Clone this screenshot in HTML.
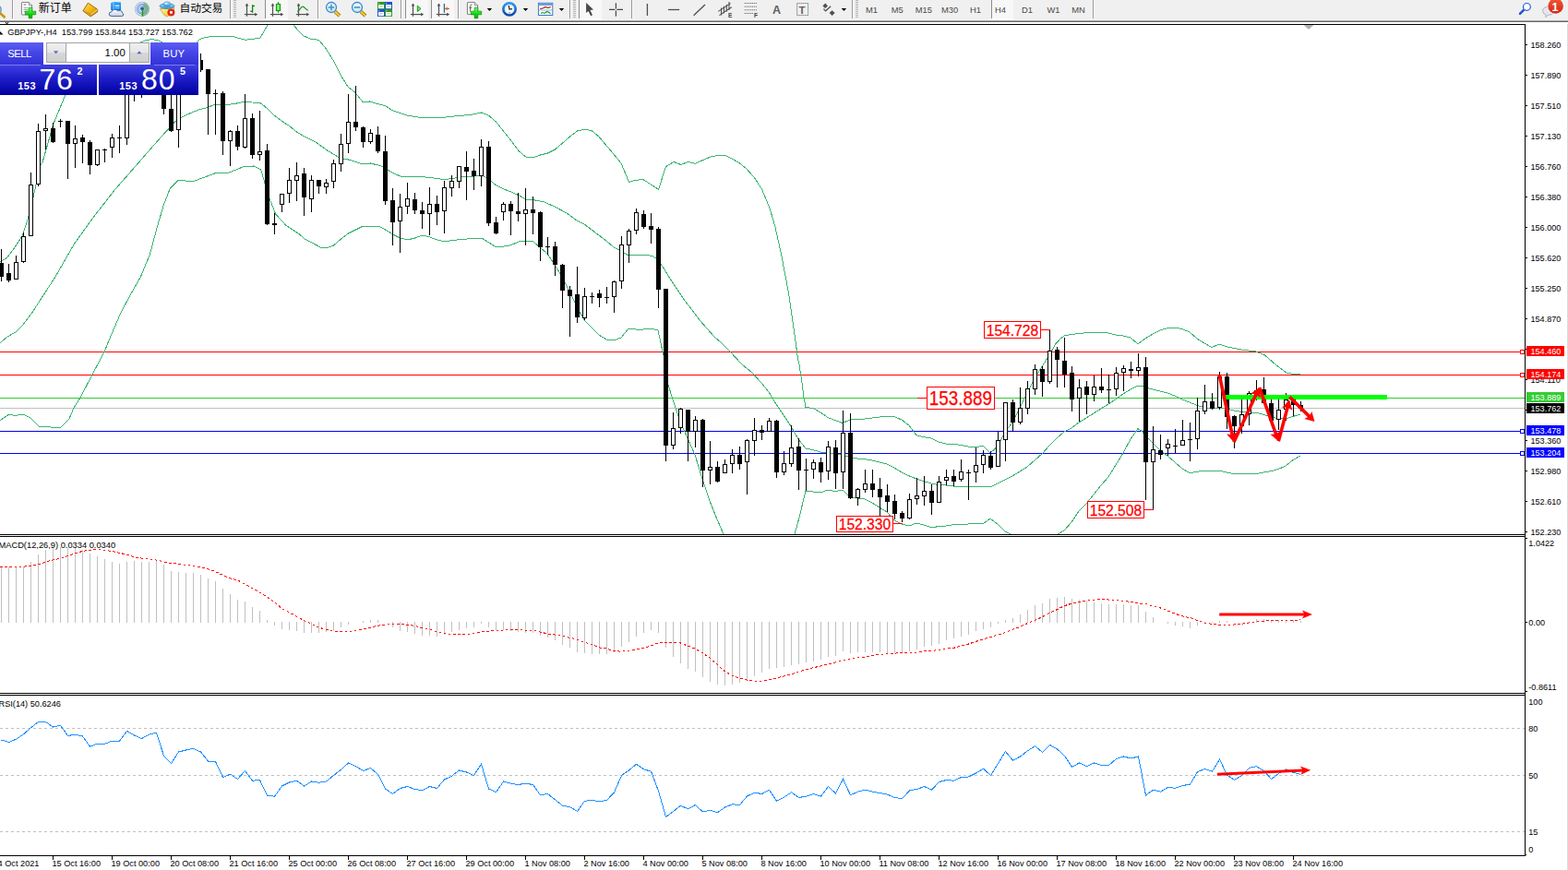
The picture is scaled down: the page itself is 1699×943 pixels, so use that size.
<!DOCTYPE html><html><head><meta charset="utf-8"><title>GBPJPY H4</title><style>
html,body{margin:0;padding:0;background:#fff;}
#root{position:relative;width:1699px;height:943px;overflow:hidden;background:#fff;font-family:"Liberation Sans", sans-serif;}
#root svg{position:absolute;left:0;top:0;}
.t{position:absolute;white-space:nowrap;line-height:1;font-family:"Liberation Sans", sans-serif;}
.t{height:1em;} 
.pb{position:absolute;left:1654px;width:41px;height:11px;color:#fff;font-size:9px;line-height:12.6px;text-indent:4.5px;font-size:9.1px;white-space:nowrap;overflow:hidden;}
.lb{position:absolute;border:1px solid #ff0000;background:#fff;color:#ff0000;display:flex;justify-content:center;white-space:nowrap;overflow:hidden;}
.lb span{flex:none;-webkit-text-stroke:0.25px #ff0000;}

#pn{position:absolute;left:0;top:46px;width:215px;height:57px;}
.sb{position:absolute;top:0;height:24px;background:linear-gradient(#5c5cf4,#4444e6 50%,#3232d8);color:#fff;font-size:11.3px;line-height:25px;}
.sbl{position:absolute;top:24px;height:1px;background:#7a7aee;z-index:3;}
.vol{position:absolute;left:47.6px;top:0;width:115.6px;height:24px;background:#fff;}
.vfr{position:absolute;left:2.6px;top:0.2px;width:109.4px;height:20.2px;border:1px solid #a4a4ac;background:#fff;}
.vbtn{position:absolute;top:0;width:20px;height:20.2px;background:linear-gradient(#efefef,#e6e6e6 48%,#d6d6d6 52%,#d0d0d0);}
.vtx{position:absolute;left:20px;top:0;width:63.6px;height:20.2px;background:#fff;font-size:11.4px;line-height:20.6px;text-align:right;padding-right:3.8px;color:#000;border-left:1px solid #a4a4ac;border-right:1px solid #a4a4ac;box-sizing:content-box;}
.pr{position:absolute;top:24px;height:33px;background:linear-gradient(#4040e4,#1e1ec8 45%,#0000a0);color:#fff;}
.pr span{position:absolute;line-height:1;white-space:nowrap;}
.s1{font-weight:bold;font-size:11px;top:17.9px;letter-spacing:0.55px;}
.s2{font-size:32px;top:-0.3px;letter-spacing:0.9px;}
.s3{font-weight:bold;font-size:10.8px;top:1.8px;}
</style></head><body><div id="root"><svg width="1699" height="943" viewBox="0 0 1699 943" shape-rendering="crispEdges"><defs><clipPath id="cm"><rect x="0" y="27" width="1652" height="552"/></clipPath><clipPath id="c2"><rect x="0" y="582" width="1652" height="169"/></clipPath><clipPath id="c3"><rect x="0" y="754" width="1652" height="173"/></clipPath></defs>
<g clip-path="url(#cm)">
<rect x="0" y="381" width="1652" height="1" fill="#ff0000"/>
<rect x="0" y="406" width="1652" height="1" fill="#ff0000"/>
<rect x="0" y="431" width="1652" height="1" fill="#32cd32"/>
<rect x="0" y="442" width="1652" height="1" fill="#c0c0c0"/>
<rect x="0" y="467" width="1652" height="1" fill="#0000ff"/>
<rect x="0" y="491" width="1652" height="1" fill="#0000ff"/>
<polyline points="0,284 8,279 16,268 24,256 30,238 36,214 39,200 43,180 46,176 58,134 70,105 80,85 90,70 100,62 120,55 140,50 150,47 158,43.6 165,42.6 171,43.6 180,48 200,50 212,48 215,43.7 219.3,41.5 223,40.6 231,39 250.7,39 257.8,41.2 266.3,43.3 273.3,42.3 281.8,41.2 286,34 290.3,26.8 293,22" fill="none" stroke="#3cb371" stroke-width="1"/>
<polyline points="315,22 317.8,26.8 322.8,32.7 329,39 337,42.3 345.4,43.3 353,52.5 361,65.2 368.7,80.7 377,94 385,100.5 393.4,111 400.5,110 409,112.5 417.4,114.6 425.6,120 441,125 456,127.5 479,127.5 496,125.5 510,124.5 521.4,122 529.4,125 537.4,132 545.4,142 553.4,152 561.5,163 569.5,170 577.5,171 585.5,168 593.5,166 601.5,162 609.6,155 617.6,148 625.6,142 633.6,140 641.6,142 649.2,148.4 657,157.7 665.4,167.7 673,176.9 681.5,197.3 689,195.3 697,194.6 705.3,200 713.5,205.3 721.5,180.7 730,175.4 737.6,178.4 746,175.4 753.3,177.4 761.5,173.5 770,170 777.6,168.4 786,168.4 793.7,172.3 801.4,176.9 809,183 817.6,193 825.3,204.6 833.7,224.6 840,246 846.6,276 854.6,318 860.6,360 864.6,389 866,395 869,415 871,431 873,441.5 881,442.5 889,447 897,452.5 905,455.7 913,458.5 921,455 929,454 937,454 945,453 953,452 961,451.7 969,451.7 977,455 985,461 993,471.7 1001,473.7 1009,475 1017,479 1025,481 1033,481 1049,484 1057,485 1065,483 1073,491 1081,484 1089,468 1097,458 1105,442 1113,426 1121,410 1129,397.5 1135.3,387.4 1140,379.5 1144,372.6 1148.7,367.5 1153,364 1161,362.4 1169,361.6 1177,360.6 1185,360 1193,360 1201,361 1209,363 1217,364 1225,366 1233,373 1241,367 1249,362 1257,358 1265,355.6 1273,355 1281,356.6 1289,360 1297,367 1305,372 1313,376.5 1321,373 1329,375.7 1337,377.5 1345,379 1353,380 1361,381 1370.5,385 1381.8,394.9 1393.8,404 1401.6,405.5 1409,405.5" fill="none" stroke="#3cb371" stroke-width="1"/>
<polyline points="0,371.6 8,365 17,360 25,352 34,340 60,300 80,265 100,237 125,205 147,180 160,165 175,148 190,131.6 196.4,127.3 205.5,123 215.4,118.9 225.3,116.3 233,113.2 241.6,114.2 249.3,113.2 257.8,111.8 265.6,110 273.3,111 281.8,111.5 289.6,117.5 297.3,125.2 305.8,131.6 313.6,136.5 321.4,142.9 330,148 342,154 356,164 369.5,172 377.5,173 385.5,175.6 393.5,178 401.5,177 409.6,179 415,180.6 423,186 433.6,191 441.6,192 458,191.6 470,193 481.7,194.6 489.7,193.6 497.7,192 513.8,191 521.8,190 527.4,192.6 537.8,201 545.8,205 553.8,208 561.9,211.6 569.9,216 577.9,216.7 590,219 601,224 614,231 625,239 633,243 641,249 649,255 657,261 665,268 673,272 681,277 689,276 700,276 707,277.6 711,280 718,289 726,302 734,314 742,326 750,336 758,347 766,356 774,365 782,372 790,380 797.5,388 804,395 815,404 825,415 833,425 841,438 849,450 857,462 865,476 873,486 881,487.6 889,490 897,491 905,491.8 913,493 921,495.8 929,497 937,497.6 945,499 953,501 961,503 969,507 977,512 985,515.8 993,519 1001,521.6 1009,524 1017,525.6 1025,526 1033,527 1049,528 1065,527 1073,528 1081,524 1089,520 1097,516 1105,511 1113,506 1121,499 1129,492 1137,483 1145,475 1153,468 1161,464 1169,458 1177,453 1185,448 1193,443 1201,438 1209,432.8 1217,427 1225,422 1233,418 1238,418.8 1244.4,420.8 1249,422 1257,424 1265,426 1273,429 1281,433 1289,436 1297,439.4 1305,441.5 1313,443 1321,442.2 1329,443 1337,445 1345,446.4 1353,447.2 1361,447.2 1369,449.3 1377,452.1 1385,453.5 1393,454.2 1401,451.4 1409,449.3" fill="none" stroke="#3cb371" stroke-width="1"/>
<polyline points="0,455.6 10,449 16,450.6 25,449 33,453 42,462 48,462 55,463 65,464 75,454 80,442 87,431 100,406 113,381.5 118,369 130.3,340.3 140.3,321.3 152.3,300.2 162.3,276 170.3,246.1 177.4,222 184.4,204 193.4,195 208.4,197 232.5,188 248.5,187 264.5,180.4 274.5,180 282.6,183.6 286.6,197 291.6,214 298.6,232 309.6,244 324.6,254 330,259 338,263 347,268 353.4,269 361.5,266 369.5,259 377.5,253 385.5,249 393.5,245 401.5,245 409.6,245 417.6,249 425.6,254 433.6,258 441.6,260 449.6,258 457.7,255 465.7,257 473.7,260 481.7,261.7 489.7,260.7 497.7,259.7 505.8,259 513.8,258 521.8,258 529.8,263 537.8,268 545.8,267 553.8,265.7 561.9,262 569.9,261 577.9,262 585,268 593,275 601,287 609,300 617,316 625,332 633,347 641,355 649,363 657,368 665,369 673,366 681,356 689,357 697,357 705,356 713,358 718,381 720,389 724,417 729,433 737,457 745,475 753,493 761,519 769,543 777,563 784,579" fill="none" stroke="#3cb371" stroke-width="1"/>
<polyline points="861,579 866,561 873,532 881,533 889,534 897,531 905,532.7 913,531 921,539 929,540 937,541 945,545 953,550 961,555 969,564 977,568 985,570 993,567 1001,569 1009,571.7 1017,570.7 1025,570 1033,568.6 1049,568 1057,567 1065,568 1073,562 1081,568 1089,576 1095,579" fill="none" stroke="#3cb371" stroke-width="1"/>
<polyline points="1146,579 1153,575 1161,566 1169,554 1177,546 1185,536 1193,526 1201,517 1209,504 1217,491 1225,476 1233,464.6 1238,468 1241,472 1249,480 1257,488 1265,494 1273,501 1281,508 1289,512.7 1297,511.4 1305,510 1313,510 1321,510 1329,512 1337,513.5 1345,513.8 1353,513.8 1361,513.5 1369,512 1377,510.7 1385,508.6 1393,505 1401,498.7 1409,494" fill="none" stroke="#3cb371" stroke-width="1"/>
<rect x="1" y="270" width="1" height="35" fill="#000"/>
<rect x="-1" y="285" width="5" height="15" fill="#000"/>
<rect x="9" y="286" width="1" height="20" fill="#000"/>
<rect x="7" y="296" width="5" height="8" fill="#000"/>
<rect x="17" y="277" width="1" height="26" fill="#000"/>
<rect x="15" y="284" width="5" height="19" fill="#000"/>
<rect x="16" y="285" width="3" height="17" fill="#fff"/>
<rect x="25" y="252" width="1" height="33" fill="#000"/>
<rect x="23" y="256" width="5" height="28" fill="#000"/>
<rect x="24" y="257" width="3" height="26" fill="#fff"/>
<rect x="33" y="187" width="1" height="69" fill="#000"/>
<rect x="31" y="200" width="5" height="56" fill="#000"/>
<rect x="32" y="201" width="3" height="54" fill="#fff"/>
<rect x="41" y="134" width="1" height="68" fill="#000"/>
<rect x="39" y="142" width="5" height="58" fill="#000"/>
<rect x="40" y="143" width="3" height="56" fill="#fff"/>
<rect x="49" y="124" width="1" height="38" fill="#000"/>
<rect x="47" y="139" width="5" height="3" fill="#000"/>
<rect x="48" y="140" width="3" height="1" fill="#fff"/>
<rect x="57" y="133" width="1" height="22" fill="#000"/>
<rect x="55" y="139" width="5" height="15" fill="#000"/>
<rect x="65" y="129" width="1" height="9" fill="#000"/>
<rect x="63" y="131" width="5" height="1" fill="#000"/>
<rect x="73" y="131" width="1" height="63" fill="#000"/>
<rect x="71" y="131" width="5" height="25" fill="#000"/>
<rect x="81" y="136" width="1" height="46" fill="#000"/>
<rect x="79" y="150" width="5" height="6" fill="#000"/>
<rect x="80" y="151" width="3" height="4" fill="#fff"/>
<rect x="89" y="146" width="1" height="31" fill="#000"/>
<rect x="87" y="149" width="5" height="5" fill="#000"/>
<rect x="97" y="152" width="1" height="37" fill="#000"/>
<rect x="95" y="154" width="5" height="25" fill="#000"/>
<rect x="105" y="162" width="1" height="18" fill="#000"/>
<rect x="103" y="162" width="5" height="17" fill="#000"/>
<rect x="104" y="163" width="3" height="15" fill="#fff"/>
<rect x="113" y="161" width="1" height="15" fill="#000"/>
<rect x="111" y="162" width="5" height="1" fill="#000"/>
<rect x="121" y="145" width="1" height="26" fill="#000"/>
<rect x="119" y="149" width="5" height="11" fill="#000"/>
<rect x="120" y="150" width="3" height="9" fill="#fff"/>
<rect x="129" y="136" width="1" height="30" fill="#000"/>
<rect x="127" y="149" width="5" height="1" fill="#000"/>
<rect x="137" y="70" width="1" height="87" fill="#000"/>
<rect x="135" y="88" width="5" height="62" fill="#000"/>
<rect x="136" y="89" width="3" height="60" fill="#fff"/>
<rect x="145" y="56" width="1" height="54" fill="#000"/>
<rect x="143" y="62" width="5" height="24" fill="#000"/>
<rect x="144" y="63" width="3" height="22" fill="#fff"/>
<rect x="153" y="58" width="1" height="48" fill="#000"/>
<rect x="151" y="64" width="5" height="16" fill="#000"/>
<rect x="161" y="55" width="1" height="41" fill="#000"/>
<rect x="159" y="60" width="5" height="16" fill="#000"/>
<rect x="160" y="61" width="3" height="14" fill="#fff"/>
<rect x="169" y="52" width="1" height="40" fill="#000"/>
<rect x="167" y="58" width="5" height="16" fill="#000"/>
<rect x="177" y="66" width="1" height="58" fill="#000"/>
<rect x="175" y="74" width="5" height="44" fill="#000"/>
<rect x="185" y="100" width="1" height="43" fill="#000"/>
<rect x="183" y="118" width="5" height="24" fill="#000"/>
<rect x="193" y="84" width="1" height="76" fill="#000"/>
<rect x="191" y="92" width="5" height="49" fill="#000"/>
<rect x="192" y="93" width="3" height="47" fill="#fff"/>
<rect x="201" y="62" width="1" height="38" fill="#000"/>
<rect x="199" y="70" width="5" height="22" fill="#000"/>
<rect x="200" y="71" width="3" height="20" fill="#fff"/>
<rect x="209" y="54" width="1" height="30" fill="#000"/>
<rect x="207" y="62" width="5" height="8" fill="#000"/>
<rect x="208" y="63" width="3" height="6" fill="#fff"/>
<rect x="217" y="58" width="1" height="20" fill="#000"/>
<rect x="215" y="65" width="5" height="11" fill="#000"/>
<rect x="225" y="75" width="1" height="71" fill="#000"/>
<rect x="223" y="75" width="5" height="27" fill="#000"/>
<rect x="233" y="97" width="1" height="49" fill="#000"/>
<rect x="231" y="101" width="5" height="1" fill="#000"/>
<rect x="241" y="99" width="1" height="69" fill="#000"/>
<rect x="239" y="101" width="5" height="52" fill="#000"/>
<rect x="249" y="141" width="1" height="39" fill="#000"/>
<rect x="247" y="142" width="5" height="11" fill="#000"/>
<rect x="248" y="143" width="3" height="9" fill="#fff"/>
<rect x="257" y="136" width="1" height="27" fill="#000"/>
<rect x="255" y="142" width="5" height="17" fill="#000"/>
<rect x="265" y="102" width="1" height="59" fill="#000"/>
<rect x="263" y="128" width="5" height="32" fill="#000"/>
<rect x="264" y="129" width="3" height="30" fill="#fff"/>
<rect x="273" y="123" width="1" height="49" fill="#000"/>
<rect x="271" y="128" width="5" height="40" fill="#000"/>
<rect x="281" y="120" width="1" height="54" fill="#000"/>
<rect x="279" y="164" width="5" height="4" fill="#000"/>
<rect x="280" y="165" width="3" height="2" fill="#fff"/>
<rect x="289" y="156" width="1" height="88" fill="#000"/>
<rect x="287" y="163" width="5" height="80" fill="#000"/>
<rect x="297" y="231" width="1" height="23" fill="#000"/>
<rect x="295" y="242" width="5" height="2" fill="#000"/>
<rect x="305" y="210" width="1" height="20" fill="#000"/>
<rect x="303" y="210" width="5" height="12" fill="#000"/>
<rect x="304" y="211" width="3" height="10" fill="#fff"/>
<rect x="313" y="182" width="1" height="38" fill="#000"/>
<rect x="311" y="195" width="5" height="15" fill="#000"/>
<rect x="312" y="196" width="3" height="13" fill="#fff"/>
<rect x="321" y="176" width="1" height="42" fill="#000"/>
<rect x="319" y="190" width="5" height="6" fill="#000"/>
<rect x="320" y="191" width="3" height="4" fill="#fff"/>
<rect x="329" y="182" width="1" height="52" fill="#000"/>
<rect x="327" y="188" width="5" height="26" fill="#000"/>
<rect x="337" y="190" width="1" height="40" fill="#000"/>
<rect x="335" y="195" width="5" height="21" fill="#000"/>
<rect x="336" y="196" width="3" height="19" fill="#fff"/>
<rect x="345" y="195" width="1" height="15" fill="#000"/>
<rect x="343" y="195" width="5" height="7" fill="#000"/>
<rect x="353" y="194" width="1" height="16" fill="#000"/>
<rect x="351" y="198" width="5" height="5" fill="#000"/>
<rect x="352" y="199" width="3" height="3" fill="#fff"/>
<rect x="361" y="173" width="1" height="31" fill="#000"/>
<rect x="359" y="177" width="5" height="20" fill="#000"/>
<rect x="360" y="178" width="3" height="18" fill="#fff"/>
<rect x="369" y="145" width="1" height="41" fill="#000"/>
<rect x="367" y="156" width="5" height="22" fill="#000"/>
<rect x="368" y="157" width="3" height="20" fill="#fff"/>
<rect x="377" y="102" width="1" height="64" fill="#000"/>
<rect x="375" y="132" width="5" height="24" fill="#000"/>
<rect x="376" y="133" width="3" height="22" fill="#fff"/>
<rect x="385" y="93" width="1" height="49" fill="#000"/>
<rect x="383" y="132" width="5" height="6" fill="#000"/>
<rect x="393" y="137" width="1" height="23" fill="#000"/>
<rect x="391" y="138" width="5" height="16" fill="#000"/>
<rect x="401" y="140" width="1" height="16" fill="#000"/>
<rect x="399" y="144" width="5" height="10" fill="#000"/>
<rect x="400" y="145" width="3" height="8" fill="#fff"/>
<rect x="409" y="137" width="1" height="29" fill="#000"/>
<rect x="407" y="146" width="5" height="18" fill="#000"/>
<rect x="417" y="147" width="1" height="75" fill="#000"/>
<rect x="415" y="164" width="5" height="54" fill="#000"/>
<rect x="425" y="204" width="1" height="62" fill="#000"/>
<rect x="423" y="217" width="5" height="24" fill="#000"/>
<rect x="433" y="210" width="1" height="64" fill="#000"/>
<rect x="431" y="224" width="5" height="16" fill="#000"/>
<rect x="432" y="225" width="3" height="14" fill="#fff"/>
<rect x="441" y="198" width="1" height="34" fill="#000"/>
<rect x="439" y="215" width="5" height="9" fill="#000"/>
<rect x="440" y="216" width="3" height="7" fill="#fff"/>
<rect x="449" y="209" width="1" height="23" fill="#000"/>
<rect x="447" y="216" width="5" height="12" fill="#000"/>
<rect x="457" y="219" width="1" height="29" fill="#000"/>
<rect x="455" y="228" width="5" height="4" fill="#000"/>
<rect x="465" y="203" width="1" height="52" fill="#000"/>
<rect x="463" y="221" width="5" height="11" fill="#000"/>
<rect x="464" y="222" width="3" height="9" fill="#fff"/>
<rect x="473" y="212" width="1" height="32" fill="#000"/>
<rect x="471" y="221" width="5" height="9" fill="#000"/>
<rect x="481" y="196" width="1" height="57" fill="#000"/>
<rect x="479" y="203" width="5" height="26" fill="#000"/>
<rect x="480" y="204" width="3" height="24" fill="#fff"/>
<rect x="489" y="190" width="1" height="23" fill="#000"/>
<rect x="487" y="196" width="5" height="8" fill="#000"/>
<rect x="488" y="197" width="3" height="6" fill="#fff"/>
<rect x="497" y="180" width="1" height="24" fill="#000"/>
<rect x="495" y="180" width="5" height="17" fill="#000"/>
<rect x="496" y="181" width="3" height="15" fill="#fff"/>
<rect x="505" y="164" width="1" height="53" fill="#000"/>
<rect x="503" y="181" width="5" height="5" fill="#000"/>
<rect x="513" y="172" width="1" height="34" fill="#000"/>
<rect x="511" y="185" width="5" height="6" fill="#000"/>
<rect x="521" y="151" width="1" height="51" fill="#000"/>
<rect x="519" y="159" width="5" height="32" fill="#000"/>
<rect x="520" y="160" width="3" height="30" fill="#fff"/>
<rect x="529" y="153" width="1" height="92" fill="#000"/>
<rect x="527" y="159" width="5" height="83" fill="#000"/>
<rect x="537" y="235" width="1" height="19" fill="#000"/>
<rect x="535" y="241" width="5" height="12" fill="#000"/>
<rect x="545" y="219" width="1" height="20" fill="#000"/>
<rect x="543" y="221" width="5" height="9" fill="#000"/>
<rect x="544" y="222" width="3" height="7" fill="#fff"/>
<rect x="553" y="218" width="1" height="37" fill="#000"/>
<rect x="551" y="221" width="5" height="8" fill="#000"/>
<rect x="561" y="209" width="1" height="31" fill="#000"/>
<rect x="559" y="229" width="5" height="3" fill="#000"/>
<rect x="569" y="204" width="1" height="62" fill="#000"/>
<rect x="567" y="227" width="5" height="5" fill="#000"/>
<rect x="568" y="228" width="3" height="3" fill="#fff"/>
<rect x="577" y="213" width="1" height="41" fill="#000"/>
<rect x="575" y="227" width="5" height="4" fill="#000"/>
<rect x="585" y="229" width="1" height="54" fill="#000"/>
<rect x="583" y="230" width="5" height="38" fill="#000"/>
<rect x="593" y="257" width="1" height="19" fill="#000"/>
<rect x="591" y="267" width="5" height="1" fill="#000"/>
<rect x="601" y="262" width="1" height="37" fill="#000"/>
<rect x="599" y="267" width="5" height="20" fill="#000"/>
<rect x="609" y="286" width="1" height="48" fill="#000"/>
<rect x="607" y="287" width="5" height="28" fill="#000"/>
<rect x="617" y="310" width="1" height="55" fill="#000"/>
<rect x="615" y="314" width="5" height="7" fill="#000"/>
<rect x="625" y="289" width="1" height="61" fill="#000"/>
<rect x="623" y="319" width="5" height="25" fill="#000"/>
<rect x="633" y="312" width="1" height="35" fill="#000"/>
<rect x="631" y="321" width="5" height="24" fill="#000"/>
<rect x="632" y="322" width="3" height="22" fill="#fff"/>
<rect x="641" y="317" width="1" height="12" fill="#000"/>
<rect x="639" y="321" width="5" height="1" fill="#000"/>
<rect x="649" y="314" width="1" height="19" fill="#000"/>
<rect x="647" y="318" width="5" height="5" fill="#000"/>
<rect x="657" y="311" width="1" height="18" fill="#000"/>
<rect x="655" y="322" width="5" height="1" fill="#000"/>
<rect x="665" y="304" width="1" height="35" fill="#000"/>
<rect x="663" y="305" width="5" height="17" fill="#000"/>
<rect x="664" y="306" width="3" height="15" fill="#fff"/>
<rect x="673" y="256" width="1" height="57" fill="#000"/>
<rect x="671" y="265" width="5" height="40" fill="#000"/>
<rect x="672" y="266" width="3" height="38" fill="#fff"/>
<rect x="681" y="248" width="1" height="37" fill="#000"/>
<rect x="679" y="250" width="5" height="16" fill="#000"/>
<rect x="680" y="251" width="3" height="14" fill="#fff"/>
<rect x="689" y="226" width="1" height="28" fill="#000"/>
<rect x="687" y="230" width="5" height="20" fill="#000"/>
<rect x="688" y="231" width="3" height="18" fill="#fff"/>
<rect x="697" y="228" width="1" height="20" fill="#000"/>
<rect x="695" y="232" width="5" height="14" fill="#000"/>
<rect x="705" y="231" width="1" height="33" fill="#000"/>
<rect x="703" y="245" width="5" height="4" fill="#000"/>
<rect x="713" y="246" width="1" height="88" fill="#000"/>
<rect x="711" y="248" width="5" height="66" fill="#000"/>
<rect x="721" y="313" width="1" height="187" fill="#000"/>
<rect x="719" y="313" width="5" height="170" fill="#000"/>
<rect x="729" y="447" width="1" height="40" fill="#000"/>
<rect x="727" y="464" width="5" height="19" fill="#000"/>
<rect x="728" y="465" width="3" height="17" fill="#fff"/>
<rect x="737" y="442" width="1" height="28" fill="#000"/>
<rect x="735" y="443" width="5" height="21" fill="#000"/>
<rect x="736" y="444" width="3" height="19" fill="#fff"/>
<rect x="745" y="444" width="1" height="56" fill="#000"/>
<rect x="743" y="444" width="5" height="24" fill="#000"/>
<rect x="753" y="451" width="1" height="34" fill="#000"/>
<rect x="751" y="455" width="5" height="13" fill="#000"/>
<rect x="752" y="456" width="3" height="11" fill="#fff"/>
<rect x="761" y="454" width="1" height="74" fill="#000"/>
<rect x="759" y="455" width="5" height="55" fill="#000"/>
<rect x="769" y="478" width="1" height="47" fill="#000"/>
<rect x="767" y="506" width="5" height="4" fill="#000"/>
<rect x="768" y="507" width="3" height="2" fill="#fff"/>
<rect x="777" y="500" width="1" height="23" fill="#000"/>
<rect x="775" y="506" width="5" height="16" fill="#000"/>
<rect x="785" y="498" width="1" height="15" fill="#000"/>
<rect x="783" y="503" width="5" height="10" fill="#000"/>
<rect x="784" y="504" width="3" height="8" fill="#fff"/>
<rect x="793" y="487" width="1" height="26" fill="#000"/>
<rect x="791" y="493" width="5" height="10" fill="#000"/>
<rect x="792" y="494" width="3" height="8" fill="#fff"/>
<rect x="801" y="484" width="1" height="25" fill="#000"/>
<rect x="799" y="493" width="5" height="10" fill="#000"/>
<rect x="809" y="476" width="1" height="60" fill="#000"/>
<rect x="807" y="477" width="5" height="24" fill="#000"/>
<rect x="808" y="478" width="3" height="22" fill="#fff"/>
<rect x="817" y="453" width="1" height="41" fill="#000"/>
<rect x="815" y="466" width="5" height="12" fill="#000"/>
<rect x="816" y="467" width="3" height="10" fill="#fff"/>
<rect x="825" y="461" width="1" height="16" fill="#000"/>
<rect x="823" y="466" width="5" height="3" fill="#000"/>
<rect x="833" y="453" width="1" height="15" fill="#000"/>
<rect x="831" y="456" width="5" height="12" fill="#000"/>
<rect x="832" y="457" width="3" height="10" fill="#fff"/>
<rect x="841" y="455" width="1" height="63" fill="#000"/>
<rect x="839" y="456" width="5" height="56" fill="#000"/>
<rect x="849" y="489" width="1" height="26" fill="#000"/>
<rect x="847" y="502" width="5" height="10" fill="#000"/>
<rect x="848" y="503" width="3" height="8" fill="#fff"/>
<rect x="857" y="461" width="1" height="45" fill="#000"/>
<rect x="855" y="485" width="5" height="18" fill="#000"/>
<rect x="856" y="486" width="3" height="16" fill="#fff"/>
<rect x="865" y="475" width="1" height="56" fill="#000"/>
<rect x="863" y="484" width="5" height="26" fill="#000"/>
<rect x="873" y="497" width="1" height="35" fill="#000"/>
<rect x="871" y="509" width="5" height="1" fill="#000"/>
<rect x="881" y="498" width="1" height="21" fill="#000"/>
<rect x="879" y="501" width="5" height="8" fill="#000"/>
<rect x="880" y="502" width="3" height="6" fill="#fff"/>
<rect x="889" y="496" width="1" height="27" fill="#000"/>
<rect x="887" y="501" width="5" height="11" fill="#000"/>
<rect x="897" y="478" width="1" height="42" fill="#000"/>
<rect x="895" y="484" width="5" height="27" fill="#000"/>
<rect x="896" y="485" width="3" height="25" fill="#fff"/>
<rect x="905" y="477" width="1" height="53" fill="#000"/>
<rect x="903" y="485" width="5" height="28" fill="#000"/>
<rect x="913" y="445" width="1" height="85" fill="#000"/>
<rect x="911" y="469" width="5" height="43" fill="#000"/>
<rect x="912" y="470" width="3" height="41" fill="#fff"/>
<rect x="921" y="448" width="1" height="93" fill="#000"/>
<rect x="919" y="469" width="5" height="71" fill="#000"/>
<rect x="929" y="529" width="1" height="19" fill="#000"/>
<rect x="927" y="530" width="5" height="10" fill="#000"/>
<rect x="928" y="531" width="3" height="8" fill="#fff"/>
<rect x="937" y="509" width="1" height="25" fill="#000"/>
<rect x="935" y="524" width="5" height="7" fill="#000"/>
<rect x="936" y="525" width="3" height="5" fill="#fff"/>
<rect x="945" y="509" width="1" height="30" fill="#000"/>
<rect x="943" y="524" width="5" height="7" fill="#000"/>
<rect x="953" y="518" width="1" height="41" fill="#000"/>
<rect x="951" y="530" width="5" height="9" fill="#000"/>
<rect x="961" y="525" width="1" height="30" fill="#000"/>
<rect x="959" y="537" width="5" height="7" fill="#000"/>
<rect x="969" y="536" width="1" height="27" fill="#000"/>
<rect x="967" y="543" width="5" height="14" fill="#000"/>
<rect x="977" y="554" width="1" height="12" fill="#000"/>
<rect x="975" y="556" width="5" height="6" fill="#000"/>
<rect x="985" y="535" width="1" height="28" fill="#000"/>
<rect x="983" y="541" width="5" height="21" fill="#000"/>
<rect x="984" y="542" width="3" height="19" fill="#fff"/>
<rect x="993" y="518" width="1" height="29" fill="#000"/>
<rect x="991" y="537" width="5" height="4" fill="#000"/>
<rect x="992" y="538" width="3" height="2" fill="#fff"/>
<rect x="1001" y="516" width="1" height="32" fill="#000"/>
<rect x="999" y="532" width="5" height="6" fill="#000"/>
<rect x="1000" y="533" width="3" height="4" fill="#fff"/>
<rect x="1009" y="525" width="1" height="33" fill="#000"/>
<rect x="1007" y="532" width="5" height="13" fill="#000"/>
<rect x="1017" y="516" width="1" height="29" fill="#000"/>
<rect x="1015" y="522" width="5" height="23" fill="#000"/>
<rect x="1016" y="523" width="3" height="21" fill="#fff"/>
<rect x="1025" y="509" width="1" height="17" fill="#000"/>
<rect x="1023" y="517" width="5" height="4" fill="#000"/>
<rect x="1024" y="518" width="3" height="2" fill="#fff"/>
<rect x="1033" y="509" width="1" height="18" fill="#000"/>
<rect x="1031" y="516" width="5" height="6" fill="#000"/>
<rect x="1041" y="498" width="1" height="24" fill="#000"/>
<rect x="1039" y="511" width="5" height="9" fill="#000"/>
<rect x="1040" y="512" width="3" height="7" fill="#fff"/>
<rect x="1049" y="509" width="1" height="33" fill="#000"/>
<rect x="1047" y="512" width="5" height="1" fill="#000"/>
<rect x="1057" y="485" width="1" height="38" fill="#000"/>
<rect x="1055" y="504" width="5" height="8" fill="#000"/>
<rect x="1056" y="505" width="3" height="6" fill="#fff"/>
<rect x="1065" y="488" width="1" height="25" fill="#000"/>
<rect x="1063" y="493" width="5" height="11" fill="#000"/>
<rect x="1064" y="494" width="3" height="9" fill="#fff"/>
<rect x="1073" y="489" width="1" height="20" fill="#000"/>
<rect x="1071" y="494" width="5" height="13" fill="#000"/>
<rect x="1081" y="468" width="1" height="38" fill="#000"/>
<rect x="1079" y="477" width="5" height="29" fill="#000"/>
<rect x="1080" y="478" width="3" height="27" fill="#fff"/>
<rect x="1089" y="436" width="1" height="64" fill="#000"/>
<rect x="1087" y="436" width="5" height="41" fill="#000"/>
<rect x="1088" y="437" width="3" height="39" fill="#fff"/>
<rect x="1097" y="433" width="1" height="35" fill="#000"/>
<rect x="1095" y="436" width="5" height="22" fill="#000"/>
<rect x="1105" y="420" width="1" height="40" fill="#000"/>
<rect x="1103" y="442" width="5" height="16" fill="#000"/>
<rect x="1104" y="443" width="3" height="14" fill="#fff"/>
<rect x="1113" y="413" width="1" height="36" fill="#000"/>
<rect x="1111" y="421" width="5" height="22" fill="#000"/>
<rect x="1112" y="422" width="3" height="20" fill="#fff"/>
<rect x="1121" y="395" width="1" height="33" fill="#000"/>
<rect x="1119" y="400" width="5" height="22" fill="#000"/>
<rect x="1120" y="401" width="3" height="20" fill="#fff"/>
<rect x="1129" y="397" width="1" height="33" fill="#000"/>
<rect x="1127" y="400" width="5" height="14" fill="#000"/>
<rect x="1137" y="358" width="1" height="58" fill="#000"/>
<rect x="1135" y="380" width="5" height="34" fill="#000"/>
<rect x="1136" y="381" width="3" height="32" fill="#fff"/>
<rect x="1145" y="376" width="1" height="44" fill="#000"/>
<rect x="1143" y="379" width="5" height="11" fill="#000"/>
<rect x="1153" y="366" width="1" height="54" fill="#000"/>
<rect x="1151" y="391" width="5" height="15" fill="#000"/>
<rect x="1161" y="397" width="1" height="49" fill="#000"/>
<rect x="1159" y="404" width="5" height="29" fill="#000"/>
<rect x="1169" y="411" width="1" height="46" fill="#000"/>
<rect x="1167" y="420" width="5" height="12" fill="#000"/>
<rect x="1168" y="421" width="3" height="10" fill="#fff"/>
<rect x="1177" y="413" width="1" height="36" fill="#000"/>
<rect x="1175" y="419" width="5" height="9" fill="#000"/>
<rect x="1185" y="407" width="1" height="28" fill="#000"/>
<rect x="1183" y="419" width="5" height="9" fill="#000"/>
<rect x="1184" y="420" width="3" height="7" fill="#fff"/>
<rect x="1193" y="399" width="1" height="27" fill="#000"/>
<rect x="1191" y="419" width="5" height="4" fill="#000"/>
<rect x="1201" y="406" width="1" height="31" fill="#000"/>
<rect x="1199" y="422" width="5" height="1" fill="#000"/>
<rect x="1209" y="398" width="1" height="31" fill="#000"/>
<rect x="1207" y="404" width="5" height="18" fill="#000"/>
<rect x="1208" y="405" width="3" height="16" fill="#fff"/>
<rect x="1217" y="396" width="1" height="28" fill="#000"/>
<rect x="1215" y="399" width="5" height="5" fill="#000"/>
<rect x="1216" y="400" width="3" height="3" fill="#fff"/>
<rect x="1225" y="392" width="1" height="18" fill="#000"/>
<rect x="1223" y="400" width="5" height="2" fill="#000"/>
<rect x="1233" y="383" width="1" height="25" fill="#000"/>
<rect x="1231" y="398" width="5" height="4" fill="#000"/>
<rect x="1232" y="399" width="3" height="2" fill="#fff"/>
<rect x="1241" y="387" width="1" height="155" fill="#000"/>
<rect x="1239" y="398" width="5" height="103" fill="#000"/>
<rect x="1249" y="462" width="1" height="90" fill="#000"/>
<rect x="1247" y="487" width="5" height="14" fill="#000"/>
<rect x="1248" y="488" width="3" height="12" fill="#fff"/>
<rect x="1257" y="471" width="1" height="27" fill="#000"/>
<rect x="1255" y="488" width="5" height="5" fill="#000"/>
<rect x="1265" y="476" width="1" height="18" fill="#000"/>
<rect x="1263" y="481" width="5" height="5" fill="#000"/>
<rect x="1264" y="482" width="3" height="3" fill="#fff"/>
<rect x="1273" y="465" width="1" height="26" fill="#000"/>
<rect x="1271" y="483" width="5" height="1" fill="#000"/>
<rect x="1281" y="455" width="1" height="28" fill="#000"/>
<rect x="1279" y="477" width="5" height="6" fill="#000"/>
<rect x="1280" y="478" width="3" height="4" fill="#fff"/>
<rect x="1289" y="458" width="1" height="42" fill="#000"/>
<rect x="1287" y="476" width="5" height="1" fill="#000"/>
<rect x="1297" y="431" width="1" height="56" fill="#000"/>
<rect x="1295" y="445" width="5" height="31" fill="#000"/>
<rect x="1296" y="446" width="3" height="29" fill="#fff"/>
<rect x="1305" y="417" width="1" height="32" fill="#000"/>
<rect x="1303" y="435" width="5" height="11" fill="#000"/>
<rect x="1304" y="436" width="3" height="9" fill="#fff"/>
<rect x="1313" y="426" width="1" height="18" fill="#000"/>
<rect x="1311" y="435" width="5" height="8" fill="#000"/>
<rect x="1321" y="403" width="1" height="41" fill="#000"/>
<rect x="1319" y="408" width="5" height="34" fill="#000"/>
<rect x="1320" y="409" width="3" height="32" fill="#fff"/>
<rect x="1329" y="404" width="1" height="61" fill="#000"/>
<rect x="1327" y="408" width="5" height="44" fill="#000"/>
<rect x="1337" y="450" width="1" height="36" fill="#000"/>
<rect x="1335" y="451" width="5" height="11" fill="#000"/>
<rect x="1345" y="432" width="1" height="38" fill="#000"/>
<rect x="1343" y="449" width="5" height="13" fill="#000"/>
<rect x="1344" y="450" width="3" height="11" fill="#fff"/>
<rect x="1353" y="424" width="1" height="37" fill="#000"/>
<rect x="1351" y="426" width="5" height="23" fill="#000"/>
<rect x="1352" y="427" width="3" height="21" fill="#fff"/>
<rect x="1361" y="412" width="1" height="22" fill="#000"/>
<rect x="1359" y="423" width="5" height="8" fill="#000"/>
<rect x="1369" y="409" width="1" height="28" fill="#000"/>
<rect x="1367" y="422" width="5" height="15" fill="#000"/>
<rect x="1377" y="433" width="1" height="23" fill="#000"/>
<rect x="1375" y="437" width="5" height="19" fill="#000"/>
<rect x="1385" y="432" width="1" height="34" fill="#000"/>
<rect x="1383" y="444" width="5" height="11" fill="#000"/>
<rect x="1384" y="445" width="3" height="9" fill="#fff"/>
<rect x="1393" y="426" width="1" height="30" fill="#000"/>
<rect x="1391" y="433" width="5" height="11" fill="#000"/>
<rect x="1392" y="434" width="3" height="9" fill="#fff"/>
<rect x="1401" y="432" width="1" height="19" fill="#000"/>
<rect x="1399" y="433" width="5" height="6" fill="#000"/>
<rect x="1409" y="435" width="1" height="11" fill="#000"/>
<rect x="1407" y="439" width="5" height="4" fill="#000"/>
</g>
<g clip-path="url(#c2)">
<rect x="1" y="615" width="1" height="60" fill="#c0c0c0"/>
<rect x="9" y="615" width="1" height="60" fill="#c0c0c0"/>
<rect x="17" y="614" width="1" height="61" fill="#c0c0c0"/>
<rect x="25" y="614" width="1" height="61" fill="#c0c0c0"/>
<rect x="33" y="609" width="1" height="66" fill="#c0c0c0"/>
<rect x="41" y="601" width="1" height="74" fill="#c0c0c0"/>
<rect x="49" y="596" width="1" height="79" fill="#c0c0c0"/>
<rect x="57" y="594" width="1" height="81" fill="#c0c0c0"/>
<rect x="65" y="593" width="1" height="82" fill="#c0c0c0"/>
<rect x="73" y="594" width="1" height="81" fill="#c0c0c0"/>
<rect x="81" y="594" width="1" height="81" fill="#c0c0c0"/>
<rect x="89" y="596" width="1" height="79" fill="#c0c0c0"/>
<rect x="97" y="600" width="1" height="75" fill="#c0c0c0"/>
<rect x="105" y="603" width="1" height="72" fill="#c0c0c0"/>
<rect x="113" y="606" width="1" height="69" fill="#c0c0c0"/>
<rect x="121" y="609" width="1" height="66" fill="#c0c0c0"/>
<rect x="129" y="611" width="1" height="64" fill="#c0c0c0"/>
<rect x="137" y="609" width="1" height="66" fill="#c0c0c0"/>
<rect x="145" y="608" width="1" height="67" fill="#c0c0c0"/>
<rect x="153" y="609" width="1" height="66" fill="#c0c0c0"/>
<rect x="161" y="609" width="1" height="66" fill="#c0c0c0"/>
<rect x="169" y="607" width="1" height="68" fill="#c0c0c0"/>
<rect x="177" y="612" width="1" height="63" fill="#c0c0c0"/>
<rect x="185" y="619" width="1" height="56" fill="#c0c0c0"/>
<rect x="193" y="620" width="1" height="55" fill="#c0c0c0"/>
<rect x="201" y="621" width="1" height="54" fill="#c0c0c0"/>
<rect x="209" y="621" width="1" height="54" fill="#c0c0c0"/>
<rect x="217" y="623" width="1" height="52" fill="#c0c0c0"/>
<rect x="225" y="627" width="1" height="48" fill="#c0c0c0"/>
<rect x="233" y="630" width="1" height="45" fill="#c0c0c0"/>
<rect x="241" y="638" width="1" height="37" fill="#c0c0c0"/>
<rect x="249" y="644" width="1" height="31" fill="#c0c0c0"/>
<rect x="257" y="650" width="1" height="25" fill="#c0c0c0"/>
<rect x="265" y="652" width="1" height="23" fill="#c0c0c0"/>
<rect x="273" y="658" width="1" height="17" fill="#c0c0c0"/>
<rect x="281" y="662" width="1" height="13" fill="#c0c0c0"/>
<rect x="289" y="672" width="1" height="3" fill="#c0c0c0"/>
<rect x="297" y="674" width="1" height="4" fill="#c0c0c0"/>
<rect x="305" y="674" width="1" height="8" fill="#c0c0c0"/>
<rect x="313" y="674" width="1" height="9" fill="#c0c0c0"/>
<rect x="321" y="674" width="1" height="10" fill="#c0c0c0"/>
<rect x="329" y="674" width="1" height="12" fill="#c0c0c0"/>
<rect x="337" y="674" width="1" height="12" fill="#c0c0c0"/>
<rect x="345" y="674" width="1" height="12" fill="#c0c0c0"/>
<rect x="353" y="674" width="1" height="11" fill="#c0c0c0"/>
<rect x="361" y="674" width="1" height="10" fill="#c0c0c0"/>
<rect x="369" y="674" width="1" height="6" fill="#c0c0c0"/>
<rect x="377" y="674" width="1" height="3" fill="#c0c0c0"/>
<rect x="393" y="673" width="1" height="2" fill="#c0c0c0"/>
<rect x="401" y="672" width="1" height="3" fill="#c0c0c0"/>
<rect x="409" y="672" width="1" height="3" fill="#c0c0c0"/>
<rect x="425" y="674" width="1" height="6" fill="#c0c0c0"/>
<rect x="433" y="674" width="1" height="10" fill="#c0c0c0"/>
<rect x="441" y="674" width="1" height="11" fill="#c0c0c0"/>
<rect x="449" y="674" width="1" height="13" fill="#c0c0c0"/>
<rect x="457" y="674" width="1" height="15" fill="#c0c0c0"/>
<rect x="465" y="674" width="1" height="15" fill="#c0c0c0"/>
<rect x="473" y="674" width="1" height="16" fill="#c0c0c0"/>
<rect x="481" y="674" width="1" height="14" fill="#c0c0c0"/>
<rect x="489" y="674" width="1" height="11" fill="#c0c0c0"/>
<rect x="497" y="674" width="1" height="9" fill="#c0c0c0"/>
<rect x="505" y="674" width="1" height="7" fill="#c0c0c0"/>
<rect x="513" y="674" width="1" height="6" fill="#c0c0c0"/>
<rect x="521" y="674" width="1" height="2" fill="#c0c0c0"/>
<rect x="529" y="674" width="1" height="6" fill="#c0c0c0"/>
<rect x="537" y="674" width="1" height="9" fill="#c0c0c0"/>
<rect x="545" y="674" width="1" height="9" fill="#c0c0c0"/>
<rect x="553" y="674" width="1" height="10" fill="#c0c0c0"/>
<rect x="561" y="674" width="1" height="11" fill="#c0c0c0"/>
<rect x="569" y="674" width="1" height="12" fill="#c0c0c0"/>
<rect x="577" y="674" width="1" height="12" fill="#c0c0c0"/>
<rect x="585" y="674" width="1" height="15" fill="#c0c0c0"/>
<rect x="593" y="674" width="1" height="17" fill="#c0c0c0"/>
<rect x="601" y="674" width="1" height="20" fill="#c0c0c0"/>
<rect x="609" y="674" width="1" height="25" fill="#c0c0c0"/>
<rect x="617" y="674" width="1" height="28" fill="#c0c0c0"/>
<rect x="625" y="674" width="1" height="33" fill="#c0c0c0"/>
<rect x="633" y="674" width="1" height="34" fill="#c0c0c0"/>
<rect x="641" y="674" width="1" height="35" fill="#c0c0c0"/>
<rect x="649" y="674" width="1" height="35" fill="#c0c0c0"/>
<rect x="657" y="674" width="1" height="35" fill="#c0c0c0"/>
<rect x="665" y="674" width="1" height="33" fill="#c0c0c0"/>
<rect x="673" y="674" width="1" height="27" fill="#c0c0c0"/>
<rect x="681" y="674" width="1" height="22" fill="#c0c0c0"/>
<rect x="689" y="674" width="1" height="16" fill="#c0c0c0"/>
<rect x="697" y="674" width="1" height="12" fill="#c0c0c0"/>
<rect x="705" y="674" width="1" height="9" fill="#c0c0c0"/>
<rect x="713" y="674" width="1" height="12" fill="#c0c0c0"/>
<rect x="721" y="674" width="1" height="28" fill="#c0c0c0"/>
<rect x="729" y="674" width="1" height="38" fill="#c0c0c0"/>
<rect x="737" y="674" width="1" height="45" fill="#c0c0c0"/>
<rect x="745" y="674" width="1" height="51" fill="#c0c0c0"/>
<rect x="753" y="674" width="1" height="54" fill="#c0c0c0"/>
<rect x="761" y="674" width="1" height="60" fill="#c0c0c0"/>
<rect x="769" y="674" width="1" height="65" fill="#c0c0c0"/>
<rect x="777" y="674" width="1" height="68" fill="#c0c0c0"/>
<rect x="785" y="674" width="1" height="69" fill="#c0c0c0"/>
<rect x="793" y="674" width="1" height="68" fill="#c0c0c0"/>
<rect x="801" y="674" width="1" height="66" fill="#c0c0c0"/>
<rect x="809" y="674" width="1" height="64" fill="#c0c0c0"/>
<rect x="817" y="674" width="1" height="59" fill="#c0c0c0"/>
<rect x="825" y="674" width="1" height="55" fill="#c0c0c0"/>
<rect x="833" y="674" width="1" height="51" fill="#c0c0c0"/>
<rect x="841" y="674" width="1" height="50" fill="#c0c0c0"/>
<rect x="849" y="674" width="1" height="49" fill="#c0c0c0"/>
<rect x="857" y="674" width="1" height="47" fill="#c0c0c0"/>
<rect x="865" y="674" width="1" height="46" fill="#c0c0c0"/>
<rect x="873" y="674" width="1" height="44" fill="#c0c0c0"/>
<rect x="881" y="674" width="1" height="43" fill="#c0c0c0"/>
<rect x="889" y="674" width="1" height="41" fill="#c0c0c0"/>
<rect x="897" y="674" width="1" height="38" fill="#c0c0c0"/>
<rect x="905" y="674" width="1" height="37" fill="#c0c0c0"/>
<rect x="913" y="674" width="1" height="32" fill="#c0c0c0"/>
<rect x="921" y="674" width="1" height="34" fill="#c0c0c0"/>
<rect x="929" y="674" width="1" height="33" fill="#c0c0c0"/>
<rect x="937" y="674" width="1" height="33" fill="#c0c0c0"/>
<rect x="945" y="674" width="1" height="33" fill="#c0c0c0"/>
<rect x="953" y="674" width="1" height="33" fill="#c0c0c0"/>
<rect x="961" y="674" width="1" height="34" fill="#c0c0c0"/>
<rect x="969" y="674" width="1" height="34" fill="#c0c0c0"/>
<rect x="977" y="674" width="1" height="34" fill="#c0c0c0"/>
<rect x="985" y="674" width="1" height="32" fill="#c0c0c0"/>
<rect x="993" y="674" width="1" height="30" fill="#c0c0c0"/>
<rect x="1001" y="674" width="1" height="27" fill="#c0c0c0"/>
<rect x="1009" y="674" width="1" height="26" fill="#c0c0c0"/>
<rect x="1017" y="674" width="1" height="24" fill="#c0c0c0"/>
<rect x="1025" y="674" width="1" height="20" fill="#c0c0c0"/>
<rect x="1033" y="674" width="1" height="18" fill="#c0c0c0"/>
<rect x="1041" y="674" width="1" height="16" fill="#c0c0c0"/>
<rect x="1049" y="674" width="1" height="14" fill="#c0c0c0"/>
<rect x="1057" y="674" width="1" height="10" fill="#c0c0c0"/>
<rect x="1065" y="674" width="1" height="8" fill="#c0c0c0"/>
<rect x="1073" y="674" width="1" height="6" fill="#c0c0c0"/>
<rect x="1081" y="674" width="1" height="2" fill="#c0c0c0"/>
<rect x="1089" y="672" width="1" height="3" fill="#c0c0c0"/>
<rect x="1097" y="670" width="1" height="5" fill="#c0c0c0"/>
<rect x="1105" y="666" width="1" height="9" fill="#c0c0c0"/>
<rect x="1113" y="661" width="1" height="14" fill="#c0c0c0"/>
<rect x="1121" y="656" width="1" height="19" fill="#c0c0c0"/>
<rect x="1129" y="654" width="1" height="21" fill="#c0c0c0"/>
<rect x="1137" y="649" width="1" height="26" fill="#c0c0c0"/>
<rect x="1145" y="648" width="1" height="27" fill="#c0c0c0"/>
<rect x="1153" y="647" width="1" height="28" fill="#c0c0c0"/>
<rect x="1161" y="649" width="1" height="26" fill="#c0c0c0"/>
<rect x="1169" y="650" width="1" height="25" fill="#c0c0c0"/>
<rect x="1177" y="651" width="1" height="24" fill="#c0c0c0"/>
<rect x="1185" y="653" width="1" height="22" fill="#c0c0c0"/>
<rect x="1193" y="654" width="1" height="21" fill="#c0c0c0"/>
<rect x="1201" y="655" width="1" height="20" fill="#c0c0c0"/>
<rect x="1209" y="655" width="1" height="20" fill="#c0c0c0"/>
<rect x="1217" y="655" width="1" height="20" fill="#c0c0c0"/>
<rect x="1225" y="656" width="1" height="19" fill="#c0c0c0"/>
<rect x="1233" y="656" width="1" height="19" fill="#c0c0c0"/>
<rect x="1241" y="663" width="1" height="12" fill="#c0c0c0"/>
<rect x="1249" y="669" width="1" height="6" fill="#c0c0c0"/>
<rect x="1265" y="674" width="1" height="2" fill="#c0c0c0"/>
<rect x="1273" y="674" width="1" height="4" fill="#c0c0c0"/>
<rect x="1281" y="674" width="1" height="5" fill="#c0c0c0"/>
<rect x="1289" y="674" width="1" height="7" fill="#c0c0c0"/>
<rect x="1297" y="674" width="1" height="4" fill="#c0c0c0"/>
<rect x="1305" y="674" width="1" height="2" fill="#c0c0c0"/>
<rect x="1313" y="674" width="1" height="1" fill="#c0c0c0"/>
<rect x="1321" y="673" width="1" height="2" fill="#c0c0c0"/>
<rect x="1329" y="673" width="1" height="2" fill="#c0c0c0"/>
<rect x="1361" y="671" width="1" height="4" fill="#c0c0c0"/>
<rect x="1369" y="671" width="1" height="4" fill="#c0c0c0"/>
<rect x="1377" y="672" width="1" height="3" fill="#c0c0c0"/>
<rect x="1385" y="672" width="1" height="3" fill="#c0c0c0"/>
<rect x="1393" y="672" width="1" height="3" fill="#c0c0c0"/>
<rect x="1401" y="672" width="1" height="3" fill="#c0c0c0"/>
<rect x="1409" y="673" width="1" height="2" fill="#c0c0c0"/>
<polyline points="0,614.5 25,614.2 35,613.2 41.2,612 50,608.8 57.5,606.8 65.5,605.5 73.8,602.5 81.2,600 89.2,597.5 97.5,596.2 105,595.8 113.8,596.2 121.2,597.5 129.2,599.2 137.5,601.2 145.2,603.8 153.2,605 161.2,606.2 169.2,607 177.2,608.8 185.2,610.5 193.2,611.2 201.2,612.5 209.2,613 217.2,615 225.2,616.8 233.2,619.5 241.2,623.2 249.2,626.8 257.2,628.8 265.2,633 273.2,637.5 281.2,642 289.2,647 297.2,652.5 305.2,659.5 313.2,663.8 321.2,668 329.2,672.5 337.2,676.2 345.2,680 353.2,682.5 361.2,684.2 369.2,684.5 377.2,684.5 385.2,683.8 393.2,682 401.2,680.5 409.2,678.2 417.2,677.5 425,676.2 433,676.2 441,677.5 449,678.2 457,680.5 465,682 473,684.5 481,686.2 489,687.5 505,687.5 515,686.2 521,685 529,684.2 537,683.2 545,683.2 553,682.5 561,682.5 569,683.2 577,683.2 585,685 593,686.8 601,688 609,688.8 617,691.2 625,693 633,696.2 641,698.2 649,701.8 657,703 665,705.5 673,706.2 681,705.5 689,704.2 697,702.5 705,700 713,696.8 721,696.2 729,696.2 737,696.8 745,700 753,703 761,707.5 769,713.2 777,720 785,727.5 793,732 801,735 809,737 817,738.2 825,738.2 833,737 841,735 849,733 857,731.2 865,728 873,725.8 881,723.8 889,722 897,720 905,718 913,716.2 921,714.2 929,713 937,712 945,710.5 953,709.2 961,708.8 969,708.2 977,707.5 985,707.5 993,707 1001,705.8 1009,705.5 1017,704.5 1025,703.2 1033,702.5 1041,700 1049,698.2 1057,695.5 1065,693 1073,690.5 1081,688 1089,685.8 1097,682.5 1105,679.5 1113,675.8 1121,672.5 1129,668.8 1137,664.5 1145,660.8 1153,656.8 1161,654.2 1169,652.5 1177,651.2 1185,650.5 1193,649.5 1201,650 1209,650.5 1217,651.2 1225,652.5 1233,653.8 1241,654.5 1249,656.8 1257,658.8 1267.8,662.9 1275.5,666 1283.3,668.5 1291,670 1298.8,673.2 1306.5,675.3 1314.3,676.6 1322,677.3 1329.8,677.3 1337.5,677 1345.3,676.3 1353,675 1360.8,673.7 1368.5,673.2 1376.3,672.7 1384,672.7 1391.8,672.4 1399.5,672.4 1407.3,671.9 1409,671" fill="none" stroke="#ff0000" stroke-width="1" stroke-dasharray="2.6 2.6"/>
</g>
<g clip-path="url(#c3)">
<line x1="0" y1="789.5" x2="1652" y2="789.5" stroke="#c0c0c0" stroke-width="1" stroke-dasharray="3 3"/>
<line x1="0" y1="840.5" x2="1652" y2="840.5" stroke="#c0c0c0" stroke-width="1" stroke-dasharray="3 3"/>
<line x1="0" y1="901.5" x2="1652" y2="901.5" stroke="#c0c0c0" stroke-width="1" stroke-dasharray="3 3"/>
<polyline points="1.5,802 9.5,804.5 17.5,801.2 25.5,795.8 33.5,788.8 41.5,782.5 49.5,782.5 57.5,788 65.5,786.2 73.5,797.5 81.5,796.2 89.5,798 97.5,809.2 105.5,806.2 113.5,806.2 121.5,803.2 129.5,803.2 137.5,792.5 145.5,797 153.5,800.5 161.5,796.2 169.5,794.2 177.5,819.2 185.5,827.5 193.5,815 201.5,813 209.5,811.2 217.5,815 225.5,825 233.5,825.5 241.5,842.5 249.5,839.2 257.5,844.5 265.5,835.5 273.5,846.2 281.5,845.5 289.5,862 297.5,863.2 305.5,852 313.5,848 321.5,846.2 329.5,852 337.5,847 345.5,848.2 353.5,847 361.5,840.5 369.5,834.2 377.5,827 385.5,830.5 393.5,835.5 401.5,832.5 409.5,839.2 417.5,855 425.5,860.5 433.5,854.5 441.5,852.5 449.5,855.5 457.5,856.8 465.5,852.5 473.5,854.5 481.5,845 489.5,841.2 497.5,835 505.5,837 513.5,840.5 521.5,828.2 529.5,855 537.5,858.8 545.5,847 553.5,849.2 561.5,850.5 569.5,849.2 577.5,850.5 585.5,861.8 593.5,860.5 601.5,866.8 609.5,873.2 617.5,874.5 625.5,879.5 633.5,868.2 641.5,867.5 649.5,868.8 657.5,867.5 665.5,858.8 673.5,840.5 681.5,835 689.5,828.2 697.5,833.8 705.5,836.2 713.5,857.5 721.5,885.5 729.5,879.5 737.5,873.2 745.5,876.8 753.5,872.5 761.5,880 769.5,878.2 777.5,880.8 785.5,875 793.5,871.8 801.5,872.5 809.5,863 817.5,859.2 825.5,860.5 833.5,856.2 841.5,868.2 849.5,864.2 857.5,858.8 865.5,864.5 873.5,863.2 881.5,860.5 889.5,863.2 897.5,852.5 905.5,860 913.5,844.5 921.5,861.8 929.5,858.2 937.5,856.2 945.5,858.2 953.5,859.5 961.5,861.2 969.5,864.5 977.5,865.8 985.5,856.8 993.5,855.5 1001.5,852.5 1009.5,856.2 1017.5,847.5 1025.5,845.5 1033.5,846.2 1041.5,842.5 1049.5,842 1057.5,838 1065.5,833.2 1073.5,840.5 1081.5,827.5 1089.5,814.5 1097.5,824.2 1105.5,820 1113.5,813.8 1121.5,808.8 1129.5,815.5 1137.5,807.5 1145.5,812 1153.5,819.2 1161.5,831.2 1169.5,827 1177.5,830.5 1185.5,827 1193.5,829.5 1201.5,829.5 1209.5,822.5 1217.5,820 1225.5,822 1233.5,820 1241.5,862 1249.5,856.2 1257.5,858.2 1265.5,853.5 1273.5,854.3 1281.5,851.5 1289.5,850.2 1297.5,836.7 1305.5,833.4 1313.5,836.2 1321.5,823 1329.5,840 1337.5,845.3 1345.5,840.6 1353.5,832.3 1361.5,830.8 1369.5,835.4 1377.5,844.5 1385.5,838.5 1393.5,834 1401.5,837.5 1409.5,839.3" fill="none" stroke="#1e90ff" stroke-width="1"/>
</g>
<rect x="0" y="26" width="1653" height="1" fill="#000"/>
<rect x="1652" y="26" width="1" height="902" fill="#000"/>
<rect x="0" y="579" width="1653" height="1" fill="#000"/>
<rect x="0" y="581" width="1653" height="1" fill="#000"/>
<rect x="0" y="751" width="1653" height="1" fill="#000"/>
<rect x="0" y="753" width="1653" height="1" fill="#000"/>
<rect x="0" y="927" width="1653" height="1" fill="#000"/>
<rect x="1653" y="926" width="1" height="1" fill="#000"/>
<rect x="1698" y="24" width="1" height="919" fill="#dcdcdc"/>
<rect x="1653" y="48" width="2" height="1" fill="#000"/>
<rect x="1653" y="81" width="2" height="1" fill="#000"/>
<rect x="1653" y="114" width="2" height="1" fill="#000"/>
<rect x="1653" y="147" width="2" height="1" fill="#000"/>
<rect x="1653" y="180" width="2" height="1" fill="#000"/>
<rect x="1653" y="213" width="2" height="1" fill="#000"/>
<rect x="1653" y="246" width="2" height="1" fill="#000"/>
<rect x="1653" y="279" width="2" height="1" fill="#000"/>
<rect x="1653" y="312" width="2" height="1" fill="#000"/>
<rect x="1653" y="345" width="2" height="1" fill="#000"/>
<rect x="1653" y="378" width="2" height="1" fill="#000"/>
<rect x="1653" y="411" width="2" height="1" fill="#000"/>
<rect x="1653" y="444" width="2" height="1" fill="#000"/>
<rect x="1653" y="477" width="2" height="1" fill="#000"/>
<rect x="1653" y="510" width="2" height="1" fill="#000"/>
<rect x="1653" y="543" width="2" height="1" fill="#000"/>
<rect x="1653" y="576" width="2" height="1" fill="#000"/>
<rect x="1653" y="583" width="2" height="1" fill="#000"/>
<rect x="1653" y="674" width="2" height="1" fill="#000"/>
<rect x="1653" y="749" width="2" height="1" fill="#000"/>
<rect x="1647" y="379" width="5" height="5" fill="#ff0000"/>
<rect x="1648" y="380" width="3" height="3" fill="#fff"/>
<rect x="1647" y="404" width="5" height="5" fill="#ff0000"/>
<rect x="1648" y="405" width="3" height="3" fill="#fff"/>
<rect x="1647" y="465" width="5" height="5" fill="#0000ff"/>
<rect x="1648" y="466" width="3" height="3" fill="#fff"/>
<rect x="1647" y="489" width="5" height="5" fill="#0000ff"/>
<rect x="1648" y="490" width="3" height="3" fill="#fff"/>
<rect x="57" y="928" width="1" height="4" fill="#000"/>
<rect x="121" y="928" width="1" height="4" fill="#000"/>
<rect x="185" y="928" width="1" height="4" fill="#000"/>
<rect x="249" y="928" width="1" height="4" fill="#000"/>
<rect x="313" y="928" width="1" height="4" fill="#000"/>
<rect x="377" y="928" width="1" height="4" fill="#000"/>
<rect x="441" y="928" width="1" height="4" fill="#000"/>
<rect x="505" y="928" width="1" height="4" fill="#000"/>
<rect x="569" y="928" width="1" height="4" fill="#000"/>
<rect x="633" y="928" width="1" height="4" fill="#000"/>
<rect x="697" y="928" width="1" height="4" fill="#000"/>
<rect x="761" y="928" width="1" height="4" fill="#000"/>
<rect x="825" y="928" width="1" height="4" fill="#000"/>
<rect x="889" y="928" width="1" height="4" fill="#000"/>
<rect x="953" y="928" width="1" height="4" fill="#000"/>
<rect x="1017" y="928" width="1" height="4" fill="#000"/>
<rect x="1081" y="928" width="1" height="4" fill="#000"/>
<rect x="1145" y="928" width="1" height="4" fill="#000"/>
<rect x="1209" y="928" width="1" height="4" fill="#000"/>
<rect x="1273" y="928" width="1" height="4" fill="#000"/>
<rect x="1337" y="928" width="1" height="4" fill="#000"/>
<rect x="1401" y="928" width="1" height="4" fill="#000"/>
<path d="M0,34 L3.5,37.5 L0,37.5 Z" fill="#000" shape-rendering="auto"/>
<path d="M1412.5,27 L1423.5,27 L1418,32 Z" fill="#b0b0b0" shape-rendering="auto"/>
<rect x="968" y="567" width="10" height="1" fill="#ff0000"/>
<rect x="994" y="431" width="10" height="1" fill="#ff0000"/>
<rect x="1128" y="357" width="10" height="1" fill="#ff0000"/>
<rect x="1240" y="552" width="10" height="1" fill="#ff0000"/></svg><svg width="1699" height="943" viewBox="0 0 1699 943"><rect x="1325" y="428" width="178" height="5" fill="#00ff00" shape-rendering="crispEdges"/>
<path d="M1321.2,406.3 L1335.3,471.7" stroke="#ff0000" stroke-width="3.6" fill="none" stroke-linecap="butt"/>
<path d="M1336.9,479.2 L1329.1,470.6 L1335.2,471.2 L1340.5,468.2 Z" fill="#ff0000"/>
<path d="M1336.9,479.2 L1361.3,427.1" stroke="#ff0000" stroke-width="3.6" fill="none" stroke-linecap="butt"/>
<path d="M1364.6,420.1 L1365.6,431.6 L1361.1,427.5 L1355.1,426.7 Z" fill="#ff0000"/>
<path d="M1364.6,420.1 L1382.7,471" stroke="#ff0000" stroke-width="3.6" fill="none" stroke-linecap="butt"/>
<path d="M1385.3,478.3 L1376.5,470.8 L1382.6,470.6 L1387.4,466.9 Z" fill="#ff0000"/>
<path d="M1385.3,478.3 L1395.3,440.9" stroke="#ff0000" stroke-width="3.6" fill="none" stroke-linecap="butt"/>
<path d="M1397.3,433.5 L1400.3,444.7 L1395.2,441.4 L1389.1,441.7 Z" fill="#ff0000"/>
<path d="M1397.3,430.3 L1419,451.6" stroke="#ff0000" stroke-width="3.6" fill="none" stroke-linecap="butt"/>
<path d="M1424.5,457 L1413.3,454.1 L1418.6,451.3 L1421.4,445.9 Z" fill="#ff0000"/>
<path d="M1321.2,666 L1414,666" stroke="#ff0000" stroke-width="3" fill="none" stroke-linecap="butt"/>
<path d="M1422,666 L1411,670.6 L1413.5,666 L1411,661.4 Z" fill="#ff0000"/>
<path d="M1318.9,839.3 L1412.2,835.1" stroke="#ff0000" stroke-width="3" fill="none" stroke-linecap="butt"/>
<path d="M1420.2,834.7 L1409.4,839.8 L1411.7,835.1 L1409,830.6 Z" fill="#ff0000"/></svg><div class="t" style="left:1658.5px;top:44.5px;font-size:9.1px;color:#000;font-weight:normal;">158.260</div>
<div class="t" style="left:1658.5px;top:77.5px;font-size:9.1px;color:#000;font-weight:normal;">157.890</div>
<div class="t" style="left:1658.5px;top:110.5px;font-size:9.1px;color:#000;font-weight:normal;">157.510</div>
<div class="t" style="left:1658.5px;top:143.5px;font-size:9.1px;color:#000;font-weight:normal;">157.130</div>
<div class="t" style="left:1658.5px;top:176.5px;font-size:9.1px;color:#000;font-weight:normal;">156.760</div>
<div class="t" style="left:1658.5px;top:209.5px;font-size:9.1px;color:#000;font-weight:normal;">156.380</div>
<div class="t" style="left:1658.5px;top:242.5px;font-size:9.1px;color:#000;font-weight:normal;">156.000</div>
<div class="t" style="left:1658.5px;top:275.5px;font-size:9.1px;color:#000;font-weight:normal;">155.620</div>
<div class="t" style="left:1658.5px;top:308.5px;font-size:9.1px;color:#000;font-weight:normal;">155.250</div>
<div class="t" style="left:1658.5px;top:341.5px;font-size:9.1px;color:#000;font-weight:normal;">154.870</div>
<div class="t" style="left:1658.5px;top:374.5px;font-size:9.1px;color:#000;font-weight:normal;">154.490</div>
<div class="t" style="left:1658.5px;top:407.5px;font-size:9.1px;color:#000;font-weight:normal;">154.110</div>
<div class="t" style="left:1658.5px;top:440.5px;font-size:9.1px;color:#000;font-weight:normal;">153.740</div>
<div class="t" style="left:1658.5px;top:473.5px;font-size:9.1px;color:#000;font-weight:normal;">153.360</div>
<div class="t" style="left:1658.5px;top:506.5px;font-size:9.1px;color:#000;font-weight:normal;">152.980</div>
<div class="t" style="left:1658.5px;top:539.5px;font-size:9.1px;color:#000;font-weight:normal;">152.610</div>
<div class="t" style="left:1658.5px;top:572.5px;font-size:9.1px;color:#000;font-weight:normal;">152.230</div>
<div class="t" style="left:1656.3px;top:584.7px;font-size:9.1px;color:#000;font-weight:normal;">1.0422</div>
<div class="t" style="left:1656.3px;top:670.7px;font-size:9.1px;color:#000;font-weight:normal;">0.00</div>
<div class="t" style="left:1656.3px;top:740.7px;font-size:9.1px;color:#000;font-weight:normal;">-0.8611</div>
<div class="t" style="left:1656.3px;top:756.6px;font-size:9.1px;color:#000;font-weight:normal;">100</div>
<div class="t" style="left:1656.3px;top:785.6px;font-size:9.1px;color:#000;font-weight:normal;">80</div>
<div class="t" style="left:1656.3px;top:836.6px;font-size:9.1px;color:#000;font-weight:normal;">50</div>
<div class="t" style="left:1656.3px;top:897.6px;font-size:9.1px;color:#000;font-weight:normal;">15</div>
<div class="t" style="left:1656.3px;top:916.6px;font-size:9.1px;color:#000;font-weight:normal;">0</div>
<div class="pb" style="top:375px;background:#ff0000">154.460</div>
<div class="pb" style="top:400px;background:#ff0000">154.174</div>
<div class="pb" style="top:425px;background:#32cd32">153.889</div>
<div class="pb" style="top:437px;background:#000">153.762</div>
<div class="pb" style="top:461px;background:#0000ff">153.478</div>
<div class="pb" style="top:485px;background:#0000ff">153.204</div>
<div class="t" style="left:-7.6px;top:932.1px;font-size:9.2px;color:#000;font-weight:normal;">14 Oct 2021</div>
<div class="t" style="left:56.4px;top:932.1px;font-size:9.2px;color:#000;font-weight:normal;">15 Oct 16:00</div>
<div class="t" style="left:120.4px;top:932.1px;font-size:9.2px;color:#000;font-weight:normal;">19 Oct 00:00</div>
<div class="t" style="left:184.4px;top:932.1px;font-size:9.2px;color:#000;font-weight:normal;">20 Oct 08:00</div>
<div class="t" style="left:248.4px;top:932.1px;font-size:9.2px;color:#000;font-weight:normal;">21 Oct 16:00</div>
<div class="t" style="left:312.4px;top:932.1px;font-size:9.2px;color:#000;font-weight:normal;">25 Oct 00:00</div>
<div class="t" style="left:376.4px;top:932.1px;font-size:9.2px;color:#000;font-weight:normal;">26 Oct 08:00</div>
<div class="t" style="left:440.4px;top:932.1px;font-size:9.2px;color:#000;font-weight:normal;">27 Oct 16:00</div>
<div class="t" style="left:504.4px;top:932.1px;font-size:9.2px;color:#000;font-weight:normal;">29 Oct 00:00</div>
<div class="t" style="left:568.4px;top:932.1px;font-size:9.2px;color:#000;font-weight:normal;">1 Nov 08:00</div>
<div class="t" style="left:632.4px;top:932.1px;font-size:9.2px;color:#000;font-weight:normal;">2 Nov 16:00</div>
<div class="t" style="left:696.4px;top:932.1px;font-size:9.2px;color:#000;font-weight:normal;">4 Nov 00:00</div>
<div class="t" style="left:760.4px;top:932.1px;font-size:9.2px;color:#000;font-weight:normal;">5 Nov 08:00</div>
<div class="t" style="left:824.4px;top:932.1px;font-size:9.2px;color:#000;font-weight:normal;">8 Nov 16:00</div>
<div class="t" style="left:888.4px;top:932.1px;font-size:9.2px;color:#000;font-weight:normal;">10 Nov 00:00</div>
<div class="t" style="left:952.4px;top:932.1px;font-size:9.2px;color:#000;font-weight:normal;">11 Nov 08:00</div>
<div class="t" style="left:1016.4px;top:932.1px;font-size:9.2px;color:#000;font-weight:normal;">12 Nov 16:00</div>
<div class="t" style="left:1080.4px;top:932.1px;font-size:9.2px;color:#000;font-weight:normal;">16 Nov 00:00</div>
<div class="t" style="left:1144.4px;top:932.1px;font-size:9.2px;color:#000;font-weight:normal;">17 Nov 08:00</div>
<div class="t" style="left:1208.4px;top:932.1px;font-size:9.2px;color:#000;font-weight:normal;">18 Nov 16:00</div>
<div class="t" style="left:1272.4px;top:932.1px;font-size:9.2px;color:#000;font-weight:normal;">22 Nov 00:00</div>
<div class="t" style="left:1336.4px;top:932.1px;font-size:9.2px;color:#000;font-weight:normal;">23 Nov 08:00</div>
<div class="t" style="left:1400.4px;top:932.1px;font-size:9.2px;color:#000;font-weight:normal;">24 Nov 16:00</div>
<div class="t" style="left:8.2px;top:30.6px;font-size:9.3px;color:#000;font-weight:normal;">GBPJPY-,H4&nbsp; 153.799 153.844 153.727 153.762</div>
<div class="t" style="left:-1.5px;top:586.7px;font-size:9.3px;color:#000;font-weight:normal;">MACD(12,26,9) 0.0334 0.0340</div>
<div class="t" style="left:-1.5px;top:758.7px;font-size:9.2px;color:#000;font-weight:normal;">RSI(14) 50.6246</div>
<div class="lb" style="left:906px;top:559px;width:60px;height:16px;font-size:16px;line-height:18.2px"><span style="display:inline-block;transform:scaleX(0.975);transform-origin:50% 50%">152.330</span></div>
<div class="lb" style="left:1004px;top:419px;width:72px;height:23px;font-size:21.5px;line-height:24.8px"><span style="display:inline-block;transform:scaleX(0.875);transform-origin:50% 50%">153.889</span></div>
<div class="lb" style="left:1066px;top:348px;width:60px;height:17px;font-size:16px;line-height:19.2px"><span style="display:inline-block;transform:scaleX(0.975);transform-origin:50% 50%">154.728</span></div>
<div class="lb" style="left:1178px;top:543px;width:60px;height:17px;font-size:16px;line-height:19.2px"><span style="display:inline-block;transform:scaleX(0.975);transform-origin:50% 50%">152.508</span></div><svg width="1699" height="27" viewBox="0 0 1699 27" style="position:absolute;left:0;top:0"><defs>
<linearGradient id="gGold" x1="0" y1="0" x2="1" y2="1"><stop offset="0" stop-color="#ffe066"/><stop offset="0.5" stop-color="#f0b810"/><stop offset="1" stop-color="#c07c08"/></linearGradient>
<linearGradient id="gPlus" x1="0" y1="0" x2="0" y2="1"><stop offset="0" stop-color="#7dff7d"/><stop offset="0.5" stop-color="#14e614"/><stop offset="1" stop-color="#00a800"/></linearGradient>
<linearGradient id="gSrv" x1="0" y1="0" x2="0" y2="1"><stop offset="0" stop-color="#26a8ff"/><stop offset="1" stop-color="#0a78e8"/></linearGradient>
<linearGradient id="gCloud" x1="0" y1="0" x2="0" y2="1"><stop offset="0" stop-color="#ffffff"/><stop offset="1" stop-color="#c4cee0"/></linearGradient>
<linearGradient id="gHat" x1="0" y1="0" x2="0" y2="1"><stop offset="0" stop-color="#a8dcf8"/><stop offset="1" stop-color="#3a98d0"/></linearGradient>
<linearGradient id="gYel" x1="0" y1="0" x2="1" y2="1"><stop offset="0" stop-color="#fff6b0"/><stop offset="1" stop-color="#f0c010"/></linearGradient>
<linearGradient id="gLens" x1="0" y1="0" x2="0" y2="1"><stop offset="0" stop-color="#eefaff"/><stop offset="1" stop-color="#c4e6f6"/></linearGradient>
<linearGradient id="gCnd" x1="0" y1="0" x2="1" y2="0"><stop offset="0" stop-color="#20d020"/><stop offset="0.5" stop-color="#98ff98"/><stop offset="1" stop-color="#20d020"/></linearGradient>
<linearGradient id="gClk" x1="0" y1="0" x2="0" y2="1"><stop offset="0" stop-color="#2a98f4"/><stop offset="1" stop-color="#0a48a8"/></linearGradient>
<linearGradient id="gTpl" x1="0" y1="0" x2="0" y2="1"><stop offset="0" stop-color="#8ab8ec"/><stop offset="1" stop-color="#3a78c8"/></linearGradient>
<linearGradient id="gRed" x1="0" y1="0" x2="0" y2="1"><stop offset="0" stop-color="#ee5a38"/><stop offset="1" stop-color="#d82410"/></linearGradient>
<pattern id="chk" width="2" height="2" patternUnits="userSpaceOnUse"><rect width="2" height="2" fill="#f0f0f0"/><rect width="1" height="1" fill="#fff"/><rect x="1" y="1" width="1" height="1" fill="#fff"/></pattern>
</defs>
<rect x="0" y="0" width="1699" height="21" fill="#f0f0f0"/>
<rect x="0" y="21" width="1699" height="1" fill="#f6f6f6"/>
<rect x="0" y="22" width="1699" height="1" fill="#a6a6a6"/>
<rect x="0" y="23" width="1699" height="1" fill="#6a6a6a"/>
<rect x="0" y="24" width="1699" height="2" fill="#ffffff"/>
<circle cx="-3.8" cy="10.5" r="5" fill="#cfe4f6" stroke="#5a96d0" stroke-width="1.4"/>
<path d="M-0.5,13.8 L4.7,18.4" stroke="#c89a18" stroke-width="2.8" stroke-linecap="round"/>
<rect x="13" y="0" width="1" height="20" fill="#9a9a9a"/><rect x="14" y="0" width="1" height="20" fill="#fafafa"/>
<path d="M24,2.6 h7.4 l3.2,3.2 v9.6 q0,0.6 -0.6,0.6 h-10 q-0.6,0 -0.6,-0.6 v-12.2 q0,-0.6 0.6,-0.6 Z" fill="#fff" stroke="#7c7c7c" stroke-width="1"/>
<path d="M31.4,2.6 v3.2 h3.2" fill="#e8e8e8" stroke="#7c7c7c" stroke-width="0.8"/>
<rect x="25.6" y="4.4" width="2.6" height="1.4" fill="#9a9a9a"/><g stroke="#9a9a9a" stroke-width="0.9"><path d="M25.5,8.6 H30.5"/><path d="M25.5,10.5 H30.5"/><path d="M25.5,12.4 H28.5"/></g>
<path d="M31.2,8.3 h3.6 v3.9 h3.9 v3.6 h-3.9 v3.9 h-3.6 v-3.9 h-3.9 v-3.6 h3.9 Z" fill="url(#gPlus)" stroke="#0a8a0a" stroke-width="0.7"/>
<text x="41.7" y="13.2" font-family='"Liberation Sans", "Noto Sans CJK SC", sans-serif' font-size="12" letter-spacing="0.05" fill="#000">新订单</text>
<path d="M89.9,11.8 L95.4,3.2 L105.7,10.2 L105.7,12.8 L98.2,17.9 Z" fill="url(#gGold)" stroke="#a46a0e" stroke-width="1" stroke-linejoin="round"/>
<path d="M98.4,15.6 L105.6,10.6" stroke="#fff3b0" stroke-width="0.8" fill="none"/><path d="M90.6,11.9 L98.3,15.4" stroke="#a46a0e" stroke-width="0.5" fill="none"/>
<path d="M120.2,3.2 L123,2 L131,2.6 L131,11 L120.2,11 Z" fill="url(#gSrv)"/>
<path d="M123,2.2 V11" stroke="#bfe4ff" stroke-width="0.8"/><rect x="124.6" y="5.6" width="4.8" height="1.5" fill="#d8f0ff"/><rect x="124.6" y="8.2" width="4.8" height="1" fill="#9ad4ff"/>
<path d="M121.2,17.6 q-3,0 -3,-2.4 q0,-2.2 2.6,-2.3 q0.6,-2.6 3.6,-2.6 q2.4,0 3.3,1.8 q1,-0.8 2.5,-0.6 q2.4,0.4 2.4,2.6 q1.4,0.5 1.2,1.9 q-0.2,1.6 -2.2,1.6 Z" fill="url(#gCloud)" stroke="#46649e" stroke-width="1"/>
<g fill="none" stroke-width="1.1"><circle cx="154" cy="9.9" r="7.4" stroke="#9ab8e8"/><circle cx="154" cy="9.9" r="5.3" stroke="#5a88d8"/><circle cx="154" cy="9.9" r="3.4" stroke="#88a8e0"/></g>
<path d="M154,9.9 L154,17.6 A7.7,7.7 0 0 0 161.7,9.9 A7.7,7.7 0 0 0 156,2.5 Z" fill="#5aa85a" opacity="0.55"/>
<circle cx="154" cy="9.6" r="2" fill="#2a5ac8"/><path d="M154.4,10 V17.8" stroke="#18a018" stroke-width="1.5"/>
<path d="M173.4,9.6 L188.6,8.4 L188.6,12.6 L181.4,17.9 L178,16.6 Z" fill="url(#gYel)" stroke="#c8a020" stroke-width="0.8" stroke-linejoin="round"/>
<ellipse cx="181" cy="6.6" rx="8" ry="2.8" fill="url(#gHat)" stroke="#2a86b8" stroke-width="0.8"/><ellipse cx="181" cy="4.6" rx="3.8" ry="2.7" fill="url(#gHat)" stroke="#2a86b8" stroke-width="0.6"/><ellipse cx="180" cy="3.8" rx="1.8" ry="1" fill="#d4eefc"/>
<circle cx="185.4" cy="13.4" r="4" fill="#dc2a14"/><rect x="184.1" y="12.1" width="2.6" height="2.6" fill="#fff"/>
<text x="194.6" y="13" font-family='"Liberation Sans", "Noto Sans CJK SC", sans-serif' font-size="11.8" letter-spacing="-0.15" fill="#000">自动交易</text>
<rect x="249" y="0" width="1" height="20" fill="#9a9a9a"/><rect x="250" y="0" width="1" height="20" fill="#fafafa"/>
<rect x="253" y="0" width="3" height="1" fill="#b4b4b4"/>
<rect x="253" y="2" width="3" height="1" fill="#b4b4b4"/>
<rect x="253" y="4" width="3" height="1" fill="#b4b4b4"/>
<rect x="253" y="6" width="3" height="1" fill="#b4b4b4"/>
<rect x="253" y="8" width="3" height="1" fill="#b4b4b4"/>
<rect x="253" y="10" width="3" height="1" fill="#b4b4b4"/>
<rect x="253" y="12" width="3" height="1" fill="#b4b4b4"/>
<rect x="253" y="14" width="3" height="1" fill="#b4b4b4"/>
<rect x="253" y="16" width="3" height="1" fill="#b4b4b4"/>
<rect x="253" y="18" width="3" height="1" fill="#b4b4b4"/>
<g stroke="#505050" stroke-width="1.2" fill="none"><path d="M267.5,4.3 V17.8"/><path d="M264.9,15.6 H278.3"/></g>
<path d="M267.5,3.4 L265.6,6.4 L269.4,6.4 Z" fill="#505050"/>
<path d="M279.1,15.6 L276.1,13.7 L276.1,17.5 Z" fill="#505050"/>
<g stroke="#0a8a0a" stroke-width="1.3" fill="none"><path d="M273.6,5.2 V13.8"/><path d="M273.6,6.5 H276"/><path d="M271.2,12.3 H273.6"/></g>
<rect x="288" y="0" width="24" height="20" fill="url(#chk)"/>
<rect x="287" y="20" width="25" height="1" fill="#ffffff"/>
<rect x="287" y="0" width="1" height="20" fill="#8c8c8c"/>
<g stroke="#505050" stroke-width="1.2" fill="none"><path d="M295.5,4.3 V17.8"/><path d="M292.9,15.6 H306.3"/></g>
<path d="M295.5,3.4 L293.6,6.4 L297.4,6.4 Z" fill="#505050"/>
<path d="M307.1,15.6 L304.1,13.7 L304.1,17.5 Z" fill="#505050"/>
<path d="M301.5,2.2 V13.8" stroke="#0a8a0a" stroke-width="1.2"/><rect x="299.3" y="4.6" width="4.4" height="7" fill="url(#gCnd)" stroke="#0a8a0a" stroke-width="0.9"/>
<g stroke="#505050" stroke-width="1.2" fill="none"><path d="M323.5,4.3 V17.8"/><path d="M320.9,15.6 H334.3"/></g>
<path d="M323.5,3.4 L321.6,6.4 L325.4,6.4 Z" fill="#505050"/>
<path d="M335.1,15.6 L332.1,13.7 L332.1,17.5 Z" fill="#505050"/>
<path d="M322.2,12.7 C324.5,11.5 326,7.2 328,7.2 C330,7.2 331.5,10.6 333.8,11.2" stroke="#1a9a1a" stroke-width="1.3" fill="none"/>
<rect x="344" y="0" width="1" height="20" fill="#9a9a9a"/><rect x="345" y="0" width="1" height="20" fill="#fafafa"/>
<path d="M362.8,12.4 L368,17.2" stroke="#9a6c0c" stroke-width="3.8" stroke-linecap="butt"/><path d="M362.8,12.4 L368,17.2" stroke="#f0cc30" stroke-width="2.2"/>
<circle cx="359" cy="8" r="5.5" fill="url(#gLens)" stroke="#3a88d0" stroke-width="1.3"/>
<path d="M355.8,8 H362.2" stroke="#4a94bc" stroke-width="1.6"/>
<path d="M359,4.8 V11.2" stroke="#4a94bc" stroke-width="1.6"/>
<path d="M390.8,12.4 L396,17.2" stroke="#9a6c0c" stroke-width="3.8" stroke-linecap="butt"/><path d="M390.8,12.4 L396,17.2" stroke="#f0cc30" stroke-width="2.2"/>
<circle cx="387" cy="8" r="5.5" fill="url(#gLens)" stroke="#3a88d0" stroke-width="1.3"/>
<path d="M383.8,8 H390.2" stroke="#4a94bc" stroke-width="1.6"/>
<rect x="409" y="2" width="8" height="8" fill="#2a9a1c"/><rect x="410" y="5" width="6" height="4.2" fill="#fff"/><rect x="411.2" y="6.4" width="3.6" height="1" fill="#9ad48a"/><rect x="410.2" y="3.2" width="1" height="1" fill="#e0e8ff"/>
<rect x="417" y="2" width="8" height="8" fill="#2252cc"/><rect x="418" y="5" width="6" height="4.2" fill="#fff"/><rect x="419.2" y="6.4" width="3.6" height="1" fill="#9ab0ee"/><rect x="418.2" y="3.2" width="1" height="1" fill="#e0e8ff"/>
<rect x="409" y="10" width="8" height="8" fill="#2252cc"/><rect x="410" y="13" width="6" height="4.2" fill="#fff"/><rect x="411.2" y="14.4" width="3.6" height="1" fill="#9ab0ee"/><rect x="410.2" y="11.2" width="1" height="1" fill="#e0e8ff"/>
<rect x="417" y="10" width="8" height="8" fill="#2a9a1c"/><rect x="418" y="13" width="6" height="4.2" fill="#fff"/><rect x="419.2" y="14.4" width="3.6" height="1" fill="#9ad48a"/><rect x="418.2" y="11.2" width="1" height="1" fill="#e0e8ff"/>
<rect x="434" y="0" width="1" height="20" fill="#9a9a9a"/><rect x="435" y="0" width="1" height="20" fill="#fafafa"/>
<rect x="440" y="0" width="24" height="20" fill="url(#chk)"/>
<rect x="439" y="20" width="25" height="1" fill="#ffffff"/>
<rect x="439" y="0" width="1" height="20" fill="#8c8c8c"/>
<g stroke="#505050" stroke-width="1.2" fill="none"><path d="M447.5,4.3 V17.8"/><path d="M444.9,15.6 H458.3"/></g>
<path d="M447.5,3.4 L445.6,6.4 L449.4,6.4 Z" fill="#505050"/>
<path d="M459.1,15.6 L456.1,13.7 L456.1,17.5 Z" fill="#505050"/>
<path d="M452.3,6.2 L456,9.4 L452.3,12.6 Z" fill="#7ae07a" stroke="#10a010" stroke-width="1"/>
<rect x="468" y="0" width="24" height="20" fill="url(#chk)"/>
<rect x="467" y="20" width="25" height="1" fill="#ffffff"/>
<rect x="467" y="0" width="1" height="20" fill="#8c8c8c"/>
<g stroke="#505050" stroke-width="1.2" fill="none"><path d="M475.5,4.3 V17.8"/><path d="M472.9,15.6 H486.3"/></g>
<path d="M475.5,3.4 L473.6,6.4 L477.4,6.4 Z" fill="#505050"/>
<path d="M487.1,15.6 L484.1,13.7 L484.1,17.5 Z" fill="#505050"/>
<path d="M481.4,4 V13.8" stroke="#1c6ea0" stroke-width="1.3"/><path d="M482.4,9.4 H487" stroke="#e05a10" stroke-width="1.2"/><path d="M482.2,9.4 L485,7.2 L484.3,9.4 L485,11.6 Z" fill="#e05a10"/>
<rect x="496" y="0" width="1" height="20" fill="#9a9a9a"/><rect x="497" y="0" width="1" height="20" fill="#fafafa"/>
<path d="M507,2.6 h7.4 l3.2,3.2 v9.2 q0,0.6 -0.6,0.6 h-10 q-0.6,0 -0.6,-0.6 v-11.8 q0,-0.6 0.6,-0.6 Z" fill="#fff" stroke="#7c7c7c" stroke-width="1"/>
<path d="M514.4,2.6 v3.2 h3.2" fill="#e8e8e8" stroke="#7c7c7c" stroke-width="0.8"/>
<path d="M511.6,5 q-1.8,-0.4 -2,1.6 v6" stroke="#6a5a3a" stroke-width="1" fill="none"/><path d="M508.4,8.4 h3" stroke="#6a5a3a" stroke-width="0.9"/>
<path d="M514.2,8.3 h3.6 v3.9 h3.9 v3.6 h-3.9 v3.9 h-3.6 v-3.9 h-3.9 v-3.6 h3.9 Z" fill="url(#gPlus)" stroke="#0a8a0a" stroke-width="0.7"/>
<path d="M527.6999999999999,9 L533.1,9 L530.4,12 Z" fill="#000"/>
<circle cx="552" cy="9.9" r="6.6" fill="#fff" stroke="url(#gClk)" stroke-width="2.7"/><circle cx="552" cy="9.9" r="5" fill="#f4f8fc" stroke="#b8c8d8" stroke-width="0.5"/>
<path d="M551.2,6 L552,10 L555,9.6" stroke="#202020" stroke-width="1.2" fill="none"/><path d="M552,13.2 v1" stroke="#4a90e0" stroke-width="1.6"/>
<path d="M566.8,9 L572.2,9 L569.5,12 Z" fill="#000"/>
<rect x="583.4" y="3.3" width="15.4" height="13.2" fill="#fff" stroke="#3a78c8" stroke-width="1"/><rect x="583.9" y="3.8" width="14.4" height="2" fill="url(#gTpl)"/><path d="M584,11 H598.4" stroke="#7aa8e0" stroke-width="0.9"/>
<path d="M585.2,9.4 L587.4,9.3 L589.2,8.4 L591,7.4 L593,8.4 L595,8.2 L596.8,7.4" stroke="#a02000" stroke-width="1.1" fill="none"/><path d="M586,14.6 L588,13.6 L590,14.4 L592.4,12.6 L594.4,13 L596.6,14.8" stroke="#109020" stroke-width="1.1" fill="none"/>
<path d="M605.8,9 L611.2,9 L608.5,12 Z" fill="#000"/>
<rect x="617" y="0" width="1" height="20" fill="#9a9a9a"/><rect x="618" y="0" width="1" height="20" fill="#fafafa"/>
<rect x="621" y="0" width="3" height="1" fill="#b4b4b4"/>
<rect x="621" y="2" width="3" height="1" fill="#b4b4b4"/>
<rect x="621" y="4" width="3" height="1" fill="#b4b4b4"/>
<rect x="621" y="6" width="3" height="1" fill="#b4b4b4"/>
<rect x="621" y="8" width="3" height="1" fill="#b4b4b4"/>
<rect x="621" y="10" width="3" height="1" fill="#b4b4b4"/>
<rect x="621" y="12" width="3" height="1" fill="#b4b4b4"/>
<rect x="621" y="14" width="3" height="1" fill="#b4b4b4"/>
<rect x="621" y="16" width="3" height="1" fill="#b4b4b4"/>
<rect x="621" y="18" width="3" height="1" fill="#b4b4b4"/>
<rect x="628" y="0" width="24" height="20" fill="url(#chk)"/>
<rect x="627" y="20" width="25" height="1" fill="#ffffff"/>
<rect x="627" y="0" width="1" height="20" fill="#8c8c8c"/>
<path d="M635.1,2.9 L635.1,14 L637.5,11.9 L640.1,17.2 L642,16.2 L639.4,11.1 L643,10.6 Z" fill="#484848"/>
<g stroke="#484848" stroke-width="1.2"><path d="M667.4,3.2 V9.4 M667.4,11.4 V17.7"/><path d="M660,10.4 H666.4 M668.4,10.4 H675"/></g>
<rect x="684" y="0" width="1" height="20" fill="#9a9a9a"/><rect x="685" y="0" width="1" height="20" fill="#fafafa"/>
<g stroke="#505050" stroke-width="1.3"><path d="M701.4,4 V17"/><path d="M724,10.5 H736.2"/><path d="M751.6,16.8 L764,5"/></g>
<g stroke="#505050" stroke-width="1.1"><path d="M778.2,12.4 L791.6,3.6"/><path d="M779.4,16.6 L792.8,7.8"/><path d="M781.6,8.6 V16.4 M784.4,6.8 V14.6 M787.2,5 V12.8 M790,2 V11"/></g>
<text x="789" y="19.2" font-family='"Liberation Sans", sans-serif' font-size="6.5" font-weight="bold" fill="#404040">E</text>
<path d="M806.8,3.5 H820.5" stroke="#505050" stroke-width="1" stroke-dasharray="1 1"/>
<path d="M806.8,7.2 H820.5" stroke="#505050" stroke-width="1" stroke-dasharray="1 1"/>
<path d="M806.8,10.8 H820.5" stroke="#505050" stroke-width="1" stroke-dasharray="1 1"/>
<path d="M806.8,14.5 H816" stroke="#505050" stroke-width="1" stroke-dasharray="1 1"/>
<text x="817" y="19.2" font-family='"Liberation Sans", sans-serif' font-size="6.5" font-weight="bold" fill="#404040">F</text>
<text x="837" y="15.2" font-family='"Liberation Sans", sans-serif' font-size="12.6" font-weight="bold" fill="#606060">A</text>
<rect x="863.6" y="3.6" width="12" height="13" fill="none" stroke="#505050" stroke-width="1" stroke-dasharray="1 1"/>
<text x="865.6" y="15" font-family='"Liberation Sans", sans-serif' font-size="11.5" font-weight="bold" fill="#606060">T</text>
<path d="M894.2,3.4 L897,6.4 L894.2,9 L891.4,6.4 Z" fill="#505050"/><path d="M901.6,11.2 L904.6,14 L901.6,17 L898.6,14 Z" fill="#505050"/><path d="M892.4,9.6 L894.6,11.8 L900.2,6.8" stroke="#505050" stroke-width="1.2" fill="none"/>
<path d="M911.6999999999999,9 L917.1,9 L914.4,12 Z" fill="#000"/>
<rect x="923" y="0" width="1" height="20" fill="#9a9a9a"/><rect x="924" y="0" width="1" height="20" fill="#fafafa"/>
<rect x="927" y="0" width="3" height="1" fill="#b4b4b4"/>
<rect x="927" y="2" width="3" height="1" fill="#b4b4b4"/>
<rect x="927" y="4" width="3" height="1" fill="#b4b4b4"/>
<rect x="927" y="6" width="3" height="1" fill="#b4b4b4"/>
<rect x="927" y="8" width="3" height="1" fill="#b4b4b4"/>
<rect x="927" y="10" width="3" height="1" fill="#b4b4b4"/>
<rect x="927" y="12" width="3" height="1" fill="#b4b4b4"/>
<rect x="927" y="14" width="3" height="1" fill="#b4b4b4"/>
<rect x="927" y="16" width="3" height="1" fill="#b4b4b4"/>
<rect x="927" y="18" width="3" height="1" fill="#b4b4b4"/>
<rect x="1075" y="0" width="23" height="20" fill="url(#chk)"/>
<rect x="1074" y="20" width="24" height="1" fill="#ffffff"/>
<rect x="1074" y="0" width="1" height="20" fill="#8c8c8c"/>
<text x="938.0" y="13.9" font-family='"Liberation Sans", sans-serif' font-size="9.4" fill="#4a4a4a">M1</text>
<text x="965.6999999999999" y="13.9" font-family='"Liberation Sans", sans-serif' font-size="9.4" fill="#4a4a4a">M5</text>
<text x="991.8" y="13.9" font-family='"Liberation Sans", sans-serif' font-size="9.4" fill="#4a4a4a">M15</text>
<text x="1020.0" y="13.9" font-family='"Liberation Sans", sans-serif' font-size="9.4" fill="#4a4a4a">M30</text>
<text x="1051.1000000000001" y="13.9" font-family='"Liberation Sans", sans-serif' font-size="9.4" fill="#4a4a4a">H1</text>
<text x="1078.1000000000001" y="13.9" font-family='"Liberation Sans", sans-serif' font-size="9.4" fill="#4a4a4a">H4</text>
<text x="1107.1000000000001" y="13.9" font-family='"Liberation Sans", sans-serif' font-size="9.4" fill="#4a4a4a">D1</text>
<text x="1134.4" y="13.9" font-family='"Liberation Sans", sans-serif' font-size="9.4" fill="#4a4a4a">W1</text>
<text x="1161.2" y="13.9" font-family='"Liberation Sans", sans-serif' font-size="9.4" fill="#4a4a4a">MN</text>
<rect x="1184" y="0" width="1" height="20" fill="#9a9a9a"/><rect x="1185" y="0" width="1" height="20" fill="#fafafa"/>
<path d="M1651.2,10.6 L1647,14.8" stroke="#2456c8" stroke-width="2.6" stroke-linecap="round"/><circle cx="1654.4" cy="7.4" r="3.9" fill="#fff" stroke="#2456d8" stroke-width="1.2"/>
<path d="M1676.6,7.4 q-5,0.4 -5,4.4 q0,3.2 3.6,4.2 l-0.4,2.6 l2.6,-2.2 q5,0 6,-3" fill="#e4e6f0" stroke="#b4b4b8" stroke-width="1"/>
<circle cx="1685.6" cy="6.5" r="8.3" fill="url(#gRed)"/>
<text x="1681.6" y="12" font-family='"Liberation Sans", sans-serif' font-size="12.5" font-weight="bold" fill="#fff">1</text>
<path d="M6,24 L7.5,26 L9,24" stroke="#000" stroke-width="1" fill="none"/></svg>
<div id="pn"><div style="position:absolute;left:215px;top:0;width:2px;height:57px;background:#fff"></div>
 <div class="sb" style="left:0;width:47px;text-align:left;text-indent:8.2px;letter-spacing:-0.55px">SELL</div>
 <div class="sbl" style="left:0;width:44px"></div>
 <div class="sb" style="left:163px;width:52px;text-align:left;text-indent:13.6px;letter-spacing:0.15px">BUY</div>
 <div class="sbl" style="left:167px;width:44px"></div>
 <div class="vol"><div class="vfr"><div class="vbtn" style="left:0"><svg width="20" height="20"><path d="M6.9,8.2 L12.3,8.2 L9.6,11.2 Z" fill="#5a68c4"/></svg></div><div class="vtx">1.00</div><div class="vbtn" style="left:89.4px"><svg width="20" height="20"><path d="M7.2,11.2 L12.6,11.2 L9.9,8.2 Z" fill="#5a68c4"/></svg></div></div></div>
 <div class="pr" style="left:0;width:105px"><span class="s1" style="left:19.2px">153</span><span class="s2" style="left:42.4px">76</span><span class="s3" style="left:83.6px">2</span></div>
 <div class="pr" style="left:107px;width:108px"><span class="s1" style="left:22.2px">153</span><span class="s2" style="left:46px">80</span><span class="s3" style="left:88.1px">5</span></div>
</div></div></body></html>
